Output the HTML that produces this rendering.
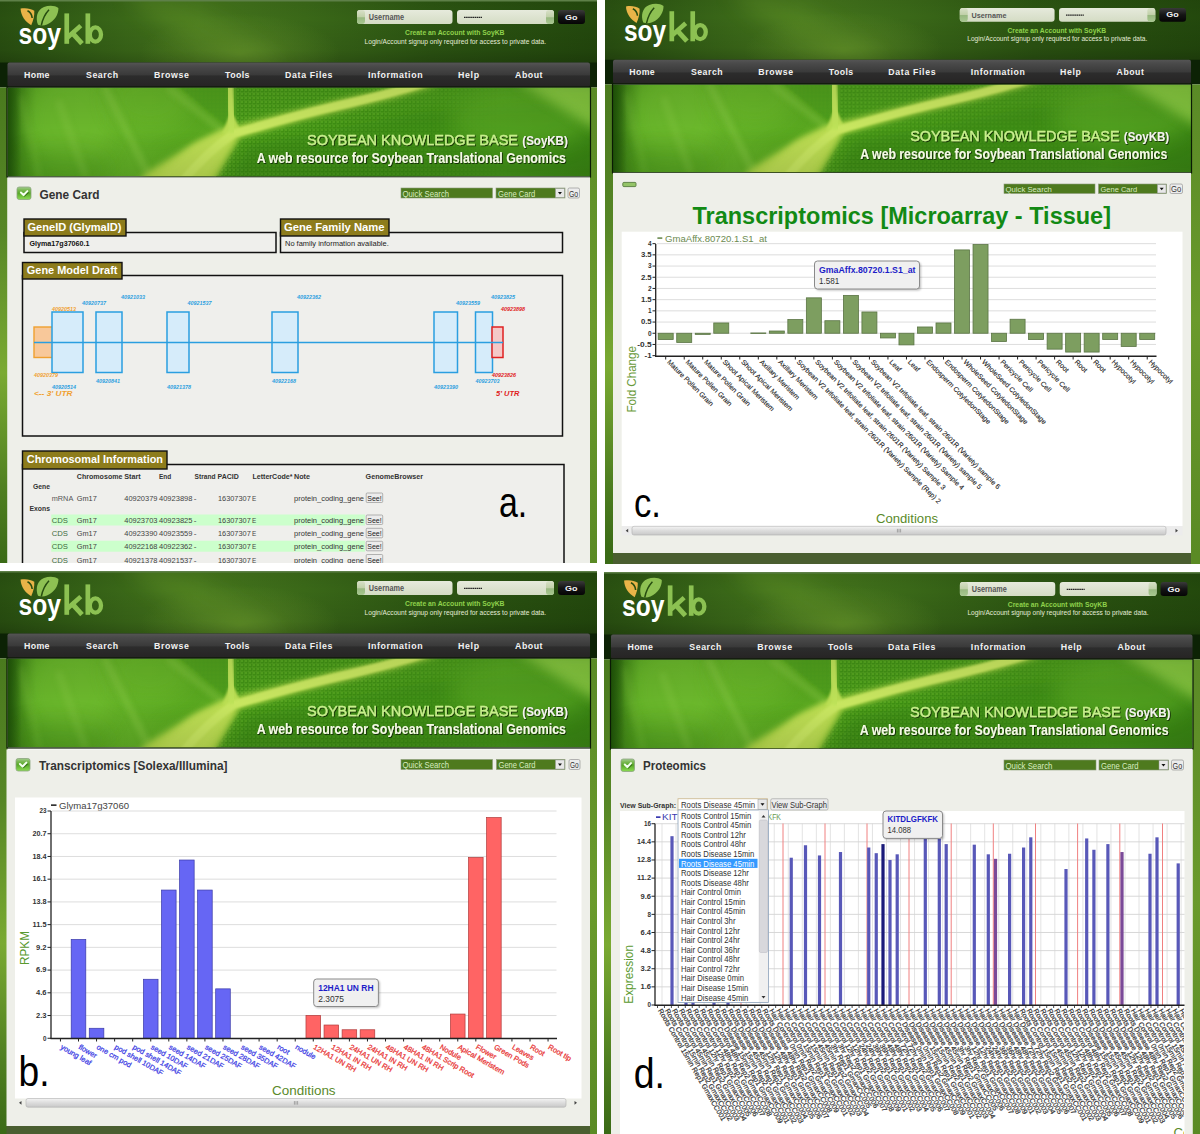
<!DOCTYPE html>
<html><head><meta charset="utf-8"><style>html,body{margin:0;padding:0;background:#fff;}body{width:1200px;height:1134px;overflow:hidden;}svg text{font-family:"Liberation Sans",sans-serif;}</style></head><body><svg width="1200" height="1134" viewBox="0 0 1200 1134" style="display:block"><defs>
<linearGradient id="hdrg" x1="0" y1="0" x2="1" y2="0">
 <stop offset="0" stop-color="#284e10"/><stop offset="0.15" stop-color="#346016"/><stop offset="0.33" stop-color="#44741c"/>
 <stop offset="0.5" stop-color="#3a6818"/><stop offset="0.7" stop-color="#2c5512"/><stop offset="1" stop-color="#22470c"/>
</linearGradient>
<radialGradient id="hdrglow" cx="240" cy="54" r="100" gradientUnits="userSpaceOnUse" gradientTransform="translate(240,54) scale(1,0.4) rotate(0) translate(-240,-54)">
 <stop offset="0" stop-color="#64962a" stop-opacity="0.95"/><stop offset="0.5" stop-color="#5a8a26" stop-opacity="0.45"/><stop offset="1" stop-color="#5a8a26" stop-opacity="0"/>
</radialGradient>
<linearGradient id="hdrv" x1="0" y1="0" x2="0" y2="1">
 <stop offset="0" stop-color="#000" stop-opacity="0.05"/><stop offset="0.3" stop-color="#000" stop-opacity="0.0"/><stop offset="0.8" stop-color="#000" stop-opacity="0.08"/><stop offset="1" stop-color="#000" stop-opacity="0.2"/>
</linearGradient>
<linearGradient id="navg" x1="0" y1="0" x2="0" y2="1">
 <stop offset="0" stop-color="#555555"/><stop offset="0.15" stop-color="#4a4a4a"/><stop offset="0.5" stop-color="#3a3a3a"/>
 <stop offset="0.55" stop-color="#2c2c2c"/><stop offset="1" stop-color="#262424"/>
</linearGradient>
<linearGradient id="fieldg" x1="0" y1="0" x2="0" y2="1">
 <stop offset="0" stop-color="#e6eadc"/><stop offset="1" stop-color="#d4dcc4"/>
</linearGradient>
<linearGradient id="gog" x1="0" y1="0" x2="0" y2="1">
 <stop offset="0" stop-color="#3a3a3a"/><stop offset="0.5" stop-color="#151515"/><stop offset="1" stop-color="#050505"/>
</linearGradient>
<linearGradient id="bang" x1="0" y1="0" x2="1" y2="0">
 <stop offset="0" stop-color="#2f6a10"/><stop offset="0.05" stop-color="#56a420"/><stop offset="0.2" stop-color="#62b026"/>
 <stop offset="0.38" stop-color="#56a41e"/><stop offset="0.6" stop-color="#469218"/><stop offset="0.85" stop-color="#4e9e1e"/><stop offset="1" stop-color="#408a16"/>
</linearGradient>
<linearGradient id="banv" x1="0" y1="0" x2="0" y2="1">
 <stop offset="0" stop-color="#000" stop-opacity="0.08"/><stop offset="0.5" stop-color="#000" stop-opacity="0"/><stop offset="1" stop-color="#000" stop-opacity="0.1"/>
</linearGradient>
<linearGradient id="banl" x1="0" y1="0" x2="1" y2="0"><stop offset="0" stop-color="#1a4a06" stop-opacity="0.8"/><stop offset="1" stop-color="#1a4a06" stop-opacity="0"/></linearGradient>
<pattern id="leaftex" width="4" height="4" patternUnits="userSpaceOnUse"><rect width="4" height="4" fill="#3f9014"/><circle cx="2" cy="2" r="1.1" fill="#5aac22"/><path d="M0,0 L4,0 M0,0 L0,4" stroke="#7cc03c" stroke-width="0.5" opacity="0.7"/></pattern>
<linearGradient id="texfade" x1="200" y1="0" x2="520" y2="0" gradientUnits="userSpaceOnUse"><stop offset="0" stop-color="#fff"/><stop offset="0.55" stop-color="#fff"/><stop offset="1" stop-color="#000"/></linearGradient>
<mask id="texmask" maskUnits="userSpaceOnUse" x="0" y="0" width="700" height="200"><rect x="0" y="0" width="700" height="200" fill="url(#texfade)"/></mask>
<linearGradient id="nubg" x1="0" y1="0" x2="0" y2="1"><stop offset="0" stop-color="#d8e0c8"/><stop offset="0.5" stop-color="#c0d0a8"/><stop offset="0.55" stop-color="#98b880"/><stop offset="1" stop-color="#a8c890"/></linearGradient>
<linearGradient id="lstrip" x1="0" y1="87" x2="0" y2="563" gradientUnits="userSpaceOnUse"><stop offset="0" stop-color="#4a7a1e"/><stop offset="0.3" stop-color="#568626"/><stop offset="0.6" stop-color="#7aaa32"/><stop offset="0.85" stop-color="#4e7e20"/><stop offset="1" stop-color="#3a6a16"/></linearGradient>
<linearGradient id="rstrip" x1="0" y1="87" x2="0" y2="563" gradientUnits="userSpaceOnUse"><stop offset="0" stop-color="#5a8a26"/><stop offset="0.5" stop-color="#6a9a2c"/><stop offset="1" stop-color="#5a8a24"/></linearGradient>
<filter id="b1" x="-20%" y="-20%" width="140%" height="140%"><feGaussianBlur stdDeviation="1.2"/></filter>
<filter id="b3" x="-20%" y="-50%" width="140%" height="200%"><feGaussianBlur stdDeviation="3"/></filter>
<filter id="b6" x="-30%" y="-80%" width="160%" height="260%"><feGaussianBlur stdDeviation="6"/></filter>
<filter id="b10" x="-50%" y="-100%" width="200%" height="300%"><feGaussianBlur stdDeviation="10"/></filter>
<filter id="tsh" x="-5%" y="-30%" width="110%" height="160%"><feDropShadow dx="0.8" dy="0.8" stdDeviation="0.6" flood-color="#000" flood-opacity="0.8"/></filter>
<linearGradient id="chk" x1="0" y1="0" x2="0" y2="1"><stop offset="0" stop-color="#a4cc90"/><stop offset="0.25" stop-color="#78b850"/><stop offset="0.5" stop-color="#58a828"/><stop offset="1" stop-color="#8cdc54"/></linearGradient>
<linearGradient id="scrl" x1="0" y1="0" x2="0" y2="1"><stop offset="0" stop-color="#f4f4f4"/><stop offset="0.5" stop-color="#dcdcdc"/><stop offset="1" stop-color="#c8c8c8"/></linearGradient>
</defs><rect width="1200" height="1134" fill="#ffffff"/><clipPath id="clipA"><rect x="0" y="0" width="597" height="563"/></clipPath><clipPath id="clipB"><rect x="0" y="571" width="597" height="563"/></clipPath><clipPath id="clipC"><rect x="605" y="0" width="595" height="564"/></clipPath><clipPath id="clipD"><rect x="604" y="572" width="596" height="562"/></clipPath><g clip-path="url(#clipA)"><rect x="-10.00" y="0.00" width="630.00" height="63.00" fill="url(#hdrg)" /><rect x="-10.00" y="0.00" width="630.00" height="63.00" fill="url(#hdrglow)" /><ellipse cx="205" cy="32" rx="85" ry="16" fill="#5e9028" opacity="0.45" transform="rotate(28 205 32)" filter="url(#b10)"/><rect x="-10.00" y="0.00" width="630.00" height="63.00" fill="url(#hdrv)" /><rect x="-10.00" y="0.00" width="630.00" height="1.50" fill="#5e8048" /><rect x="-10.00" y="62.50" width="630.00" height="25.00" fill="#0c2205" /><rect x="7.5" y="62.5" width="582.5" height="24.5" rx="2" fill="url(#navg)"/><text x="24" y="78.2" font-size="8.8" font-weight="bold" fill="#f2f2f2" textLength="25.5" lengthAdjust="spacing">Home</text><text x="86" y="78.2" font-size="8.8" font-weight="bold" fill="#f2f2f2" textLength="32" lengthAdjust="spacing">Search</text><text x="154" y="78.2" font-size="8.8" font-weight="bold" fill="#f2f2f2" textLength="35" lengthAdjust="spacing">Browse</text><text x="225" y="78.2" font-size="8.8" font-weight="bold" fill="#f2f2f2" textLength="24.5" lengthAdjust="spacing">Tools</text><text x="285" y="78.2" font-size="8.8" font-weight="bold" fill="#f2f2f2" textLength="47.5" lengthAdjust="spacing">Data Files</text><text x="368" y="78.2" font-size="8.8" font-weight="bold" fill="#f2f2f2" textLength="54.5" lengthAdjust="spacing">Information</text><text x="458" y="78.2" font-size="8.8" font-weight="bold" fill="#f2f2f2" textLength="21" lengthAdjust="spacing">Help</text><text x="515" y="78.2" font-size="8.8" font-weight="bold" fill="#f2f2f2" textLength="27.5" lengthAdjust="spacing">About</text><path d="M20.6,8.6 C25,7.6 31,8.3 34.3,10.8 C34.6,15.5 33.4,20.5 31.2,25.2 C25.5,22 20.8,16 20.6,8.6 Z" fill="#e9b448"/><path d="M27.5,10.8 C30,12 31.8,14.5 32.2,18" stroke="#274d10" stroke-width="1.6" fill="none"/><path d="M38,24.8 C35.3,18 37,9.5 44,7 C49,5.2 55,5.4 58.4,8 C58.6,14 55,21 47,24.6 C44,25.8 40.5,25.8 38,24.8 Z" fill="#8ec153"/><path d="M49,9.8 C45,14 42.5,19.5 41.3,25.5" stroke="#274d10" stroke-width="1.5" fill="none"/><text x="18.60" y="43.80" font-size="29.5" font-weight="bold" fill="#ffffff" textLength="42.40" lengthAdjust="spacingAndGlyphs" font-family="Liberation Sans" >soy</text><rect x="64.4" y="13.4" width="4.7" height="30.4" fill="#8cc152"/><path d="M67.5,37.5 L80.8,25.6" stroke="#8cc152" stroke-width="4.6" fill="none"/><path d="M71.2,31.8 L82,43.6" stroke="#8cc152" stroke-width="5" fill="none"/><rect x="85.5" y="13.4" width="4.7" height="30.4" fill="#8cc152"/><ellipse cx="95.4" cy="34.5" rx="5.6" ry="7.1" stroke="#8cc152" stroke-width="4.3" fill="none"/><rect x="357" y="10" width="95.5" height="14" rx="3" fill="url(#fieldg)"/><rect x="357" y="10" width="8" height="14" rx="3" fill="url(#nubg)"/><rect x="457" y="10" width="97" height="14" rx="3" fill="url(#fieldg)"/><rect x="546" y="10" width="8" height="14" rx="3" fill="url(#nubg)"/><text x="368.80" y="20.00" font-size="8.2" font-weight="bold" fill="#555" textLength="35.20" lengthAdjust="spacingAndGlyphs" >Username</text><line x1="464" y1="17.3" x2="482" y2="17.3" stroke="#222" stroke-width="1.3" stroke-dasharray="1.6,0.5"/><rect x="558" y="10" width="27" height="14" rx="3" fill="url(#gog)"/><text x="565.00" y="19.60" font-size="7" font-weight="bold" fill="#f4f4f4" textLength="12.50" lengthAdjust="spacingAndGlyphs" >Go</text><text x="405.00" y="35.00" font-size="7" font-weight="bold" fill="#8fd24c" textLength="99.50" lengthAdjust="spacingAndGlyphs" >Create an Account with SoyKB</text><text x="364.50" y="43.50" font-size="6.6" font-weight="normal" fill="#e4ecd8" textLength="181.50" lengthAdjust="spacingAndGlyphs" >Login/Account signup only required for access to private data.</text><rect x="-10.00" y="87.50" width="17.50" height="512.50" fill="url(#lstrip)" /><rect x="590.00" y="87.50" width="30.00" height="512.50" fill="url(#rstrip)" /><svg x="7.5" y="87.5" width="582.5" height="89.0" viewBox="7.5 87.5 582.5 89.0" overflow="hidden"><rect x="7.50" y="87.50" width="582.50" height="89.00" fill="url(#bang)" /><ellipse cx="70" cy="120" rx="45" ry="50" fill="#74c030" opacity="0.6" filter="url(#b10)"/><ellipse cx="150" cy="100" rx="40" ry="30" fill="#6cb82a" opacity="0.55" filter="url(#b10)"/><ellipse cx="60" cy="168" rx="50" ry="18" fill="#4e9c1a" opacity="0.45" filter="url(#b10)"/><ellipse cx="185" cy="165" rx="25" ry="15" fill="#4a9a18" opacity="0.3" filter="url(#b10)"/><line x1="104" y1="86" x2="148" y2="174" stroke="#8cca48" stroke-width="5" opacity="0.6" filter="url(#b3)"/><line x1="58" y1="100" x2="86" y2="178" stroke="#8cca48" stroke-width="6" opacity="0.35" filter="url(#b3)"/><line x1="168" y1="88" x2="224" y2="132" stroke="#8cca48" stroke-width="4" opacity="0.65" filter="url(#b3)"/><line x1="20" y1="96" x2="40" y2="178" stroke="#8cca48" stroke-width="6" opacity="0.2" filter="url(#b3)"/><g mask="url(#texmask)"><path d="M236,86 L236,128 L345,101 L420,84 Z" fill="url(#leaftex)" opacity="0.9"/><path d="M178,86 L227,86 L228,127 L205,108 Z" fill="url(#leaftex)" opacity="0.6" filter="url(#b1)"/><path d="M215,178 L240,140 L350,110 L420,88 L430,84 L520,84 L520,178 Z" fill="url(#leaftex)" opacity="0.9"/></g><path d="M230,178 L250,145 L420,112 L600,100 L600,178 Z" fill="#2c760c" opacity="0.35" filter="url(#b6)"/><ellipse cx="520" cy="120" rx="70" ry="30" fill="#62ae28" opacity="0.5" filter="url(#b10)"/><path d="M515,80 L600,80 L600,132 Z" fill="#94d04a" opacity="0.75" filter="url(#b6)"/><path d="M137,182 L214,182 L239,137 L300,120 L350,108 L395,97 L440,84 L412,84 L385,91 L345,99 L296,111 L224,129 L198,141 L172,157 L148,172 Z" fill="#b2d84a" opacity="1" filter="url(#b3)"/><path d="M152,182 L204,182 L236,136 L224,131 L192,147 Z" fill="#bede54" opacity="0.9" filter="url(#b3)"/><path d="M222,134 L242,134 L234,116 L229,116 Z" fill="#bade52" filter="url(#b1)"/><path d="M182,182 Q206,153 233,134 Q300,114 350,103 Q385,95 428,82" stroke="#c8e660" stroke-width="8.5" fill="none" opacity="1" filter="url(#b1)"/><path d="M229.5,84 Q230.5,112 233,133" stroke="#bee258" stroke-width="7.5" fill="none" filter="url(#b1)"/><rect x="7.50" y="87.50" width="582.50" height="89.00" fill="url(#banv)" /><rect x="7.50" y="87.50" width="14.00" height="89.00" fill="url(#banl)" /></svg><rect x="7.0" y="87.0" width="583.5" height="90.0" fill="none" stroke="#0a1a04" stroke-width="1.2"/><g filter="url(#tsh)"><text x="307.00" y="144.80" font-size="15.4" font-weight="normal" fill="#c8f08c" textLength="211.00" lengthAdjust="spacingAndGlyphs" stroke="#c8f08c" stroke-width="0.35">SOYBEAN KNOWLEDGE BASE</text><text x="522.30" y="144.80" font-size="12.2" font-weight="bold" fill="#f4f4ee" textLength="45.50" lengthAdjust="spacingAndGlyphs" >(SoyKB)</text><text x="256.70" y="163.40" font-size="14.6" font-weight="bold" fill="#f4fae4" textLength="309.30" lengthAdjust="spacingAndGlyphs" >A web resource for Soybean Translational Genomics</text></g><rect x="7.50" y="177.50" width="582.50" height="392.50" fill="#eeefe9" /><rect x="17" y="187" width="14" height="12.5" rx="2.2" fill="url(#chk)" stroke="#8aa47e" stroke-width="0.8"/><path d="M24.18,196.40 L28.56,192.32" stroke="#2a5a10" stroke-width="1.2" fill="none" opacity="0.8"/><path d="M20.92,192.50 L23.58,195.00 L27.36,191.12" stroke="#f4fff0" stroke-width="2" fill="none" stroke-linecap="round" stroke-linejoin="round"/><text x="39.50" y="199.00" font-size="13.3" font-weight="bold" fill="#333" textLength="60.00" lengthAdjust="spacingAndGlyphs" >Gene Card</text><rect x="401.00" y="188.00" width="91.50" height="10.00" fill="#4e7a1e" stroke="#8a9a7a" stroke-width="0.6"/><text x="402.50" y="196.70" font-size="8.5" font-weight="normal" fill="#d8ecc0" textLength="46.67" lengthAdjust="spacingAndGlyphs" >Quick Search</text><rect x="496.00" y="188.00" width="69.00" height="10.00" fill="#4e7a1e" stroke="#8a9a7a" stroke-width="0.6"/><text x="498.00" y="196.70" font-size="8.5" font-weight="normal" fill="#d8ecc0" textLength="37.26" lengthAdjust="spacingAndGlyphs" >Gene Card</text><rect x="555.50" y="188.50" width="9.00" height="9.00" fill="#e8e8e8" stroke="#999" stroke-width="0.5"/><path d="M557.95,192.0 L561.95,192.0 L559.95,194.5 Z" fill="#111"/><rect x="568" y="188" width="11.5" height="10" rx="1.5" fill="#ececec" stroke="#888" stroke-width="0.6"/><text x="569.00" y="196.70" font-size="9.350000000000001" font-weight="normal" fill="#333" textLength="9.20" lengthAdjust="spacingAndGlyphs" >Go</text><rect x="24.00" y="232.50" width="252.00" height="20.00" fill="#efefec" stroke="#111" stroke-width="1.5"/><rect x="24.00" y="219.00" width="102.00" height="17.00" fill="#8d7c1c" stroke="#111" stroke-width="1.4"/><text x="27.50" y="231.30" font-size="11.5" font-weight="bold" fill="#ffffff" textLength="94.00" lengthAdjust="spacingAndGlyphs" >GeneID (GlymaID)</text><text x="29.50" y="245.60" font-size="7.2" font-weight="bold" fill="#111" textLength="60.00" lengthAdjust="spacingAndGlyphs" >Glyma17g37060.1</text><rect x="280.50" y="232.50" width="282.00" height="20.00" fill="#efefec" stroke="#111" stroke-width="1.5"/><rect x="280.50" y="219.00" width="108.50" height="17.00" fill="#8d7c1c" stroke="#111" stroke-width="1.4"/><text x="284.00" y="231.30" font-size="11.5" font-weight="bold" fill="#ffffff" textLength="100.50" lengthAdjust="spacingAndGlyphs" >Gene Family Name</text><text x="285.00" y="245.60" font-size="7" font-weight="normal" fill="#222" textLength="103.70" lengthAdjust="spacingAndGlyphs" >No family information available.</text><rect x="22.50" y="275.50" width="540.00" height="160.50" fill="#efefec" stroke="#111" stroke-width="1.5"/><rect x="22.50" y="262.50" width="99.50" height="16.50" fill="#8d7c1c" stroke="#111" stroke-width="1.4"/><text x="26.80" y="274.00" font-size="11.5" font-weight="bold" fill="#ffffff" textLength="90.70" lengthAdjust="spacingAndGlyphs" >Gene Model Draft</text><rect x="34.00" y="327.00" width="19.00" height="30.50" fill="#f8c89a" stroke="#f0a030" stroke-width="1.4"/><rect x="52.00" y="312.00" width="31.00" height="60.50" fill="#d6ecfa" stroke="#2a9ee0" stroke-width="1.5"/><rect x="96.00" y="312.00" width="26.00" height="60.50" fill="#d6ecfa" stroke="#2a9ee0" stroke-width="1.5"/><rect x="167.00" y="312.00" width="22.00" height="60.50" fill="#d6ecfa" stroke="#2a9ee0" stroke-width="1.5"/><rect x="272.00" y="312.00" width="26.00" height="60.50" fill="#d6ecfa" stroke="#2a9ee0" stroke-width="1.5"/><rect x="434.00" y="312.00" width="23.50" height="60.50" fill="#d6ecfa" stroke="#2a9ee0" stroke-width="1.5"/><rect x="475.50" y="312.00" width="17.00" height="60.50" fill="#d6ecfa" stroke="#2a9ee0" stroke-width="1.5"/><rect x="492.00" y="327.00" width="11.00" height="30.50" fill="#f4c8c8" stroke="#e02020" stroke-width="1.5"/><line x1="34" y1="342.5" x2="503" y2="342.5" stroke="#2a9ee0" stroke-width="1.6"/><text x="52.00" y="311.00" font-size="5.6" font-weight="bold" fill="#f0a030" textLength="24.00" lengthAdjust="spacingAndGlyphs" font-style="italic" >40920513</text><text x="82.00" y="305.00" font-size="5.6" font-weight="bold" fill="#2a9ee0" textLength="24.00" lengthAdjust="spacingAndGlyphs" font-style="italic" >40920737</text><text x="121.00" y="299.00" font-size="5.6" font-weight="bold" fill="#2a9ee0" textLength="24.00" lengthAdjust="spacingAndGlyphs" font-style="italic" >40921033</text><text x="187.50" y="305.00" font-size="5.6" font-weight="bold" fill="#2a9ee0" textLength="24.00" lengthAdjust="spacingAndGlyphs" font-style="italic" >40921537</text><text x="297.00" y="299.00" font-size="5.6" font-weight="bold" fill="#2a9ee0" textLength="24.00" lengthAdjust="spacingAndGlyphs" font-style="italic" >40922362</text><text x="456.00" y="305.00" font-size="5.6" font-weight="bold" fill="#2a9ee0" textLength="24.00" lengthAdjust="spacingAndGlyphs" font-style="italic" >40923559</text><text x="491.00" y="299.00" font-size="5.6" font-weight="bold" fill="#2a9ee0" textLength="24.00" lengthAdjust="spacingAndGlyphs" font-style="italic" >40923825</text><text x="501.00" y="311.00" font-size="5.6" font-weight="bold" fill="#e02020" textLength="24.00" lengthAdjust="spacingAndGlyphs" font-style="italic" >40923898</text><text x="34.00" y="377.00" font-size="5.6" font-weight="bold" fill="#f0a030" textLength="24.00" lengthAdjust="spacingAndGlyphs" font-style="italic" >40920379</text><text x="52.00" y="389.00" font-size="5.6" font-weight="bold" fill="#2a9ee0" textLength="24.00" lengthAdjust="spacingAndGlyphs" font-style="italic" >40920514</text><text x="96.00" y="383.00" font-size="5.6" font-weight="bold" fill="#2a9ee0" textLength="24.00" lengthAdjust="spacingAndGlyphs" font-style="italic" >40920841</text><text x="167.00" y="389.00" font-size="5.6" font-weight="bold" fill="#2a9ee0" textLength="24.00" lengthAdjust="spacingAndGlyphs" font-style="italic" >40921378</text><text x="272.00" y="383.00" font-size="5.6" font-weight="bold" fill="#2a9ee0" textLength="24.00" lengthAdjust="spacingAndGlyphs" font-style="italic" >40922168</text><text x="434.00" y="389.00" font-size="5.6" font-weight="bold" fill="#2a9ee0" textLength="24.00" lengthAdjust="spacingAndGlyphs" font-style="italic" >40923390</text><text x="475.50" y="383.00" font-size="5.6" font-weight="bold" fill="#2a9ee0" textLength="24.00" lengthAdjust="spacingAndGlyphs" font-style="italic" >40923703</text><text x="492.00" y="377.00" font-size="5.6" font-weight="bold" fill="#e02020" textLength="24.00" lengthAdjust="spacingAndGlyphs" font-style="italic" >40923826</text><text x="34.00" y="396.00" font-size="7.5" font-weight="bold" fill="#f0a030" textLength="38.50" lengthAdjust="spacingAndGlyphs" font-style="italic" >&lt;-- 3' UTR</text><text x="496.00" y="396.00" font-size="7.5" font-weight="bold" fill="#e02020" textLength="23.50" lengthAdjust="spacingAndGlyphs" font-style="italic" >5' UTR</text><rect x="22.50" y="464.50" width="541.50" height="135.50" fill="#efefec" stroke="#111" stroke-width="1.5"/><rect x="22.50" y="451.00" width="144.50" height="18.00" fill="#8d7c1c" stroke="#111" stroke-width="1.4"/><text x="26.80" y="463.20" font-size="11" font-weight="bold" fill="#ffffff" textLength="136.20" lengthAdjust="spacingAndGlyphs" >Chromosomal Information</text><rect x="51.20" y="514.50" width="313.80" height="11.00" fill="#ccffcc" /><rect x="51.20" y="540.70" width="313.80" height="11.00" fill="#ccffcc" /><text x="76.75" y="479.30" font-size="7.6" font-weight="bold" fill="#333" textLength="45.75" lengthAdjust="spacingAndGlyphs" >Chromosome</text><text x="124.25" y="479.30" font-size="7.6" font-weight="bold" fill="#333" textLength="16.50" lengthAdjust="spacingAndGlyphs" >Start</text><text x="159.00" y="479.30" font-size="7.6" font-weight="bold" fill="#333" textLength="12.25" lengthAdjust="spacingAndGlyphs" >End</text><text x="194.50" y="479.30" font-size="7.6" font-weight="bold" fill="#333" textLength="21.00" lengthAdjust="spacingAndGlyphs" >Strand</text><text x="217.50" y="479.30" font-size="7.6" font-weight="bold" fill="#333" textLength="21.25" lengthAdjust="spacingAndGlyphs" >PACID</text><text x="252.50" y="479.30" font-size="7.6" font-weight="bold" fill="#333" textLength="40.00" lengthAdjust="spacingAndGlyphs" >LetterCode*</text><text x="294.00" y="479.30" font-size="7.6" font-weight="bold" fill="#333" textLength="16.00" lengthAdjust="spacingAndGlyphs" >Note</text><text x="365.60" y="479.30" font-size="7.6" font-weight="bold" fill="#333" textLength="57.40" lengthAdjust="spacingAndGlyphs" >GenomeBrowser</text><text x="33.00" y="488.80" font-size="7.6" font-weight="bold" fill="#333" textLength="17.00" lengthAdjust="spacingAndGlyphs" >Gene</text><text x="29.50" y="511.30" font-size="7.6" font-weight="bold" fill="#333" textLength="20.50" lengthAdjust="spacingAndGlyphs" >Exons</text><text x="51.75" y="500.50" font-size="7.6" font-weight="normal" fill="#555" textLength="21.50" lengthAdjust="spacingAndGlyphs" >mRNA</text><text x="76.75" y="500.50" font-size="7.6" font-weight="normal" fill="#444" textLength="20.00" lengthAdjust="spacingAndGlyphs" >Gm17</text><text x="124.25" y="500.50" font-size="7.6" font-weight="normal" fill="#444" textLength="33.25" lengthAdjust="spacingAndGlyphs" >40920379</text><text x="159.00" y="500.50" font-size="7.6" font-weight="normal" fill="#444" textLength="33.50" lengthAdjust="spacingAndGlyphs" >40923898</text><text x="193.75" y="500.50" font-size="7.6" font-weight="normal" fill="#444" textLength="2.75" lengthAdjust="spacingAndGlyphs" >-</text><text x="218.00" y="500.50" font-size="7.6" font-weight="normal" fill="#444" textLength="32.75" lengthAdjust="spacingAndGlyphs" >16307307</text><text x="252.00" y="500.50" font-size="7.6" font-weight="normal" fill="#444" textLength="4.25" lengthAdjust="spacingAndGlyphs" >E</text><text x="294.10" y="500.50" font-size="7.6" font-weight="normal" fill="#333" textLength="69.90" lengthAdjust="spacingAndGlyphs" >protein_coding_gene</text><rect x="366.2" y="493.0" width="16.5" height="9.5" rx="1" fill="#ececec" stroke="#888" stroke-width="0.6"/><text x="367.20" y="500.50" font-size="8" font-weight="normal" fill="#222" textLength="14.50" lengthAdjust="spacingAndGlyphs" >See!</text><text x="51.75" y="523.00" font-size="7.6" font-weight="normal" fill="#3d6b3d" textLength="16.25" lengthAdjust="spacingAndGlyphs" >CDS</text><text x="76.75" y="523.00" font-size="7.6" font-weight="normal" fill="#444" textLength="20.00" lengthAdjust="spacingAndGlyphs" >Gm17</text><text x="124.25" y="523.00" font-size="7.6" font-weight="normal" fill="#444" textLength="33.25" lengthAdjust="spacingAndGlyphs" >40923703</text><text x="159.00" y="523.00" font-size="7.6" font-weight="normal" fill="#444" textLength="33.50" lengthAdjust="spacingAndGlyphs" >40923825</text><text x="193.75" y="523.00" font-size="7.6" font-weight="normal" fill="#444" textLength="2.75" lengthAdjust="spacingAndGlyphs" >-</text><text x="218.00" y="523.00" font-size="7.6" font-weight="normal" fill="#444" textLength="32.75" lengthAdjust="spacingAndGlyphs" >16307307</text><text x="252.00" y="523.00" font-size="7.6" font-weight="normal" fill="#444" textLength="4.25" lengthAdjust="spacingAndGlyphs" >E</text><text x="294.10" y="523.00" font-size="7.6" font-weight="normal" fill="#333" textLength="69.90" lengthAdjust="spacingAndGlyphs" >protein_coding_gene</text><rect x="366.2" y="515" width="16.5" height="9.5" rx="1" fill="#ececec" stroke="#888" stroke-width="0.6"/><text x="367.20" y="523.00" font-size="8" font-weight="normal" fill="#222" textLength="14.50" lengthAdjust="spacingAndGlyphs" >See!</text><text x="51.75" y="536.30" font-size="7.6" font-weight="normal" fill="#3d6b3d" textLength="16.25" lengthAdjust="spacingAndGlyphs" >CDS</text><text x="76.75" y="536.30" font-size="7.6" font-weight="normal" fill="#444" textLength="20.00" lengthAdjust="spacingAndGlyphs" >Gm17</text><text x="124.25" y="536.30" font-size="7.6" font-weight="normal" fill="#444" textLength="33.25" lengthAdjust="spacingAndGlyphs" >40923390</text><text x="159.00" y="536.30" font-size="7.6" font-weight="normal" fill="#444" textLength="33.50" lengthAdjust="spacingAndGlyphs" >40923559</text><text x="193.75" y="536.30" font-size="7.6" font-weight="normal" fill="#444" textLength="2.75" lengthAdjust="spacingAndGlyphs" >-</text><text x="218.00" y="536.30" font-size="7.6" font-weight="normal" fill="#444" textLength="32.75" lengthAdjust="spacingAndGlyphs" >16307307</text><text x="252.00" y="536.30" font-size="7.6" font-weight="normal" fill="#444" textLength="4.25" lengthAdjust="spacingAndGlyphs" >E</text><text x="294.10" y="536.30" font-size="7.6" font-weight="normal" fill="#333" textLength="69.90" lengthAdjust="spacingAndGlyphs" >protein_coding_gene</text><rect x="366.2" y="528.3" width="16.5" height="9.5" rx="1" fill="#ececec" stroke="#888" stroke-width="0.6"/><text x="367.20" y="536.30" font-size="8" font-weight="normal" fill="#222" textLength="14.50" lengthAdjust="spacingAndGlyphs" >See!</text><text x="51.75" y="549.30" font-size="7.6" font-weight="normal" fill="#3d6b3d" textLength="16.25" lengthAdjust="spacingAndGlyphs" >CDS</text><text x="76.75" y="549.30" font-size="7.6" font-weight="normal" fill="#444" textLength="20.00" lengthAdjust="spacingAndGlyphs" >Gm17</text><text x="124.25" y="549.30" font-size="7.6" font-weight="normal" fill="#444" textLength="33.25" lengthAdjust="spacingAndGlyphs" >40922168</text><text x="159.00" y="549.30" font-size="7.6" font-weight="normal" fill="#444" textLength="33.50" lengthAdjust="spacingAndGlyphs" >40922362</text><text x="193.75" y="549.30" font-size="7.6" font-weight="normal" fill="#444" textLength="2.75" lengthAdjust="spacingAndGlyphs" >-</text><text x="218.00" y="549.30" font-size="7.6" font-weight="normal" fill="#444" textLength="32.75" lengthAdjust="spacingAndGlyphs" >16307307</text><text x="252.00" y="549.30" font-size="7.6" font-weight="normal" fill="#444" textLength="4.25" lengthAdjust="spacingAndGlyphs" >E</text><text x="294.10" y="549.30" font-size="7.6" font-weight="normal" fill="#333" textLength="69.90" lengthAdjust="spacingAndGlyphs" >protein_coding_gene</text><rect x="366.2" y="541.3" width="16.5" height="9.5" rx="1" fill="#ececec" stroke="#888" stroke-width="0.6"/><text x="367.20" y="549.30" font-size="8" font-weight="normal" fill="#222" textLength="14.50" lengthAdjust="spacingAndGlyphs" >See!</text><text x="51.75" y="562.50" font-size="7.6" font-weight="normal" fill="#3d6b3d" textLength="16.25" lengthAdjust="spacingAndGlyphs" >CDS</text><text x="76.75" y="562.50" font-size="7.6" font-weight="normal" fill="#444" textLength="20.00" lengthAdjust="spacingAndGlyphs" >Gm17</text><text x="124.25" y="562.50" font-size="7.6" font-weight="normal" fill="#444" textLength="33.25" lengthAdjust="spacingAndGlyphs" >40921378</text><text x="159.00" y="562.50" font-size="7.6" font-weight="normal" fill="#444" textLength="33.50" lengthAdjust="spacingAndGlyphs" >40921537</text><text x="193.75" y="562.50" font-size="7.6" font-weight="normal" fill="#444" textLength="2.75" lengthAdjust="spacingAndGlyphs" >-</text><text x="218.00" y="562.50" font-size="7.6" font-weight="normal" fill="#444" textLength="32.75" lengthAdjust="spacingAndGlyphs" >16307307</text><text x="252.00" y="562.50" font-size="7.6" font-weight="normal" fill="#444" textLength="4.25" lengthAdjust="spacingAndGlyphs" >E</text><text x="294.10" y="562.50" font-size="7.6" font-weight="normal" fill="#333" textLength="69.90" lengthAdjust="spacingAndGlyphs" >protein_coding_gene</text><rect x="366.2" y="554.5" width="16.5" height="9.5" rx="1" fill="#ececec" stroke="#888" stroke-width="0.6"/><text x="367.20" y="562.50" font-size="8" font-weight="normal" fill="#222" textLength="14.50" lengthAdjust="spacingAndGlyphs" >See!</text><text x="499.00" y="516.70" font-size="42" font-weight="normal" fill="#000" textLength="28.30" lengthAdjust="spacingAndGlyphs" >a.</text></g><g clip-path="url(#clipB)"><g transform="translate(0,571)"><rect x="-10.00" y="0.00" width="630.00" height="63.00" fill="url(#hdrg)" /><rect x="-10.00" y="0.00" width="630.00" height="63.00" fill="url(#hdrglow)" /><ellipse cx="205" cy="32" rx="85" ry="16" fill="#5e9028" opacity="0.45" transform="rotate(28 205 32)" filter="url(#b10)"/><rect x="-10.00" y="0.00" width="630.00" height="63.00" fill="url(#hdrv)" /><rect x="-10.00" y="0.00" width="630.00" height="1.50" fill="#5e8048" /><rect x="-10.00" y="62.50" width="630.00" height="25.00" fill="#0c2205" /><rect x="7.5" y="62.5" width="582.5" height="24.5" rx="2" fill="url(#navg)"/><text x="24" y="78.2" font-size="8.8" font-weight="bold" fill="#f2f2f2" textLength="25.5" lengthAdjust="spacing">Home</text><text x="86" y="78.2" font-size="8.8" font-weight="bold" fill="#f2f2f2" textLength="32" lengthAdjust="spacing">Search</text><text x="154" y="78.2" font-size="8.8" font-weight="bold" fill="#f2f2f2" textLength="35" lengthAdjust="spacing">Browse</text><text x="225" y="78.2" font-size="8.8" font-weight="bold" fill="#f2f2f2" textLength="24.5" lengthAdjust="spacing">Tools</text><text x="285" y="78.2" font-size="8.8" font-weight="bold" fill="#f2f2f2" textLength="47.5" lengthAdjust="spacing">Data Files</text><text x="368" y="78.2" font-size="8.8" font-weight="bold" fill="#f2f2f2" textLength="54.5" lengthAdjust="spacing">Information</text><text x="458" y="78.2" font-size="8.8" font-weight="bold" fill="#f2f2f2" textLength="21" lengthAdjust="spacing">Help</text><text x="515" y="78.2" font-size="8.8" font-weight="bold" fill="#f2f2f2" textLength="27.5" lengthAdjust="spacing">About</text><path d="M20.6,8.6 C25,7.6 31,8.3 34.3,10.8 C34.6,15.5 33.4,20.5 31.2,25.2 C25.5,22 20.8,16 20.6,8.6 Z" fill="#e9b448"/><path d="M27.5,10.8 C30,12 31.8,14.5 32.2,18" stroke="#274d10" stroke-width="1.6" fill="none"/><path d="M38,24.8 C35.3,18 37,9.5 44,7 C49,5.2 55,5.4 58.4,8 C58.6,14 55,21 47,24.6 C44,25.8 40.5,25.8 38,24.8 Z" fill="#8ec153"/><path d="M49,9.8 C45,14 42.5,19.5 41.3,25.5" stroke="#274d10" stroke-width="1.5" fill="none"/><text x="18.60" y="43.80" font-size="29.5" font-weight="bold" fill="#ffffff" textLength="42.40" lengthAdjust="spacingAndGlyphs" font-family="Liberation Sans" >soy</text><rect x="64.4" y="13.4" width="4.7" height="30.4" fill="#8cc152"/><path d="M67.5,37.5 L80.8,25.6" stroke="#8cc152" stroke-width="4.6" fill="none"/><path d="M71.2,31.8 L82,43.6" stroke="#8cc152" stroke-width="5" fill="none"/><rect x="85.5" y="13.4" width="4.7" height="30.4" fill="#8cc152"/><ellipse cx="95.4" cy="34.5" rx="5.6" ry="7.1" stroke="#8cc152" stroke-width="4.3" fill="none"/><rect x="357" y="10" width="95.5" height="14" rx="3" fill="url(#fieldg)"/><rect x="357" y="10" width="8" height="14" rx="3" fill="url(#nubg)"/><rect x="457" y="10" width="97" height="14" rx="3" fill="url(#fieldg)"/><rect x="546" y="10" width="8" height="14" rx="3" fill="url(#nubg)"/><text x="368.80" y="20.00" font-size="8.2" font-weight="bold" fill="#555" textLength="35.20" lengthAdjust="spacingAndGlyphs" >Username</text><line x1="464" y1="17.3" x2="482" y2="17.3" stroke="#222" stroke-width="1.3" stroke-dasharray="1.6,0.5"/><rect x="558" y="10" width="27" height="14" rx="3" fill="url(#gog)"/><text x="565.00" y="19.60" font-size="7" font-weight="bold" fill="#f4f4f4" textLength="12.50" lengthAdjust="spacingAndGlyphs" >Go</text><text x="405.00" y="35.00" font-size="7" font-weight="bold" fill="#8fd24c" textLength="99.50" lengthAdjust="spacingAndGlyphs" >Create an Account with SoyKB</text><text x="364.50" y="43.50" font-size="6.6" font-weight="normal" fill="#e4ecd8" textLength="181.50" lengthAdjust="spacingAndGlyphs" >Login/Account signup only required for access to private data.</text><rect x="-10.00" y="87.50" width="17.50" height="512.50" fill="url(#lstrip)" /><rect x="590.00" y="87.50" width="30.00" height="512.50" fill="url(#rstrip)" /><svg x="7.5" y="87.5" width="582.5" height="89.0" viewBox="7.5 87.5 582.5 89.0" overflow="hidden"><rect x="7.50" y="87.50" width="582.50" height="89.00" fill="url(#bang)" /><ellipse cx="70" cy="120" rx="45" ry="50" fill="#74c030" opacity="0.6" filter="url(#b10)"/><ellipse cx="150" cy="100" rx="40" ry="30" fill="#6cb82a" opacity="0.55" filter="url(#b10)"/><ellipse cx="60" cy="168" rx="50" ry="18" fill="#4e9c1a" opacity="0.45" filter="url(#b10)"/><ellipse cx="185" cy="165" rx="25" ry="15" fill="#4a9a18" opacity="0.3" filter="url(#b10)"/><line x1="104" y1="86" x2="148" y2="174" stroke="#8cca48" stroke-width="5" opacity="0.6" filter="url(#b3)"/><line x1="58" y1="100" x2="86" y2="178" stroke="#8cca48" stroke-width="6" opacity="0.35" filter="url(#b3)"/><line x1="168" y1="88" x2="224" y2="132" stroke="#8cca48" stroke-width="4" opacity="0.65" filter="url(#b3)"/><line x1="20" y1="96" x2="40" y2="178" stroke="#8cca48" stroke-width="6" opacity="0.2" filter="url(#b3)"/><g mask="url(#texmask)"><path d="M236,86 L236,128 L345,101 L420,84 Z" fill="url(#leaftex)" opacity="0.9"/><path d="M178,86 L227,86 L228,127 L205,108 Z" fill="url(#leaftex)" opacity="0.6" filter="url(#b1)"/><path d="M215,178 L240,140 L350,110 L420,88 L430,84 L520,84 L520,178 Z" fill="url(#leaftex)" opacity="0.9"/></g><path d="M230,178 L250,145 L420,112 L600,100 L600,178 Z" fill="#2c760c" opacity="0.35" filter="url(#b6)"/><ellipse cx="520" cy="120" rx="70" ry="30" fill="#62ae28" opacity="0.5" filter="url(#b10)"/><path d="M515,80 L600,80 L600,132 Z" fill="#94d04a" opacity="0.75" filter="url(#b6)"/><path d="M137,182 L214,182 L239,137 L300,120 L350,108 L395,97 L440,84 L412,84 L385,91 L345,99 L296,111 L224,129 L198,141 L172,157 L148,172 Z" fill="#b2d84a" opacity="1" filter="url(#b3)"/><path d="M152,182 L204,182 L236,136 L224,131 L192,147 Z" fill="#bede54" opacity="0.9" filter="url(#b3)"/><path d="M222,134 L242,134 L234,116 L229,116 Z" fill="#bade52" filter="url(#b1)"/><path d="M182,182 Q206,153 233,134 Q300,114 350,103 Q385,95 428,82" stroke="#c8e660" stroke-width="8.5" fill="none" opacity="1" filter="url(#b1)"/><path d="M229.5,84 Q230.5,112 233,133" stroke="#bee258" stroke-width="7.5" fill="none" filter="url(#b1)"/><rect x="7.50" y="87.50" width="582.50" height="89.00" fill="url(#banv)" /><rect x="7.50" y="87.50" width="14.00" height="89.00" fill="url(#banl)" /></svg><rect x="7.0" y="87.0" width="583.5" height="90.0" fill="none" stroke="#0a1a04" stroke-width="1.2"/><g filter="url(#tsh)"><text x="307.00" y="144.80" font-size="15.4" font-weight="normal" fill="#c8f08c" textLength="211.00" lengthAdjust="spacingAndGlyphs" stroke="#c8f08c" stroke-width="0.35">SOYBEAN KNOWLEDGE BASE</text><text x="522.30" y="144.80" font-size="12.2" font-weight="bold" fill="#f4f4ee" textLength="45.50" lengthAdjust="spacingAndGlyphs" >(SoyKB)</text><text x="256.70" y="163.40" font-size="14.6" font-weight="bold" fill="#f4fae4" textLength="309.30" lengthAdjust="spacingAndGlyphs" >A web resource for Soybean Translational Genomics</text></g></g><rect x="6.50" y="749.50" width="583.50" height="376.50" fill="#eeefe9" /><rect x="6.50" y="1126.00" width="583.50" height="8.00" fill="#4a5e30" /><rect x="16" y="758.5" width="14" height="12.5" rx="2.2" fill="url(#chk)" stroke="#8aa47e" stroke-width="0.8"/><path d="M23.18,767.90 L27.56,763.83" stroke="#2a5a10" stroke-width="1.2" fill="none" opacity="0.8"/><path d="M19.92,764.00 L22.58,766.50 L26.36,762.62" stroke="#f4fff0" stroke-width="2" fill="none" stroke-linecap="round" stroke-linejoin="round"/><text x="39.00" y="769.60" font-size="13.3" font-weight="bold" fill="#333" textLength="188.50" lengthAdjust="spacingAndGlyphs" >Transcriptomics [Solexa/Illumina]</text><rect x="401.00" y="759.50" width="91.50" height="10.00" fill="#4e7a1e" stroke="#8a9a7a" stroke-width="0.6"/><text x="402.50" y="768.20" font-size="8.5" font-weight="normal" fill="#d8ecc0" textLength="46.67" lengthAdjust="spacingAndGlyphs" >Quick Search</text><rect x="496.50" y="759.50" width="68.50" height="10.00" fill="#4e7a1e" stroke="#8a9a7a" stroke-width="0.6"/><text x="498.50" y="768.20" font-size="8.5" font-weight="normal" fill="#d8ecc0" textLength="36.99" lengthAdjust="spacingAndGlyphs" >Gene Card</text><rect x="555.50" y="760.00" width="9.00" height="9.00" fill="#e8e8e8" stroke="#999" stroke-width="0.5"/><path d="M557.95,763.5 L561.95,763.5 L559.95,766.0 Z" fill="#111"/><rect x="569" y="759.5" width="11" height="10.0" rx="1.5" fill="#ececec" stroke="#888" stroke-width="0.6"/><text x="570.00" y="768.20" font-size="9.350000000000001" font-weight="normal" fill="#333" textLength="8.70" lengthAdjust="spacingAndGlyphs" >Go</text><rect x="15.00" y="797.50" width="566.50" height="301.00" fill="#ffffff" /><rect x="51.00" y="804.30" width="5.50" height="1.70" fill="#333" /><text x="59.00" y="808.60" font-size="8.8" font-weight="normal" fill="#444" textLength="70.00" lengthAdjust="spacingAndGlyphs" >Glyma17g37060</text><line x1="47.5" y1="1038.25" x2="51" y2="1038.25" stroke="#222" stroke-width="1"/><text x="43.00" y="1040.55" font-size="6.8" font-weight="bold" fill="#333" textLength="3.50" lengthAdjust="spacingAndGlyphs" >0</text><line x1="52" y1="1015.53" x2="556.5" y2="1015.53" stroke="#d9d9d9" stroke-width="0.9"/><line x1="47.5" y1="1015.53" x2="51" y2="1015.53" stroke="#222" stroke-width="1"/><text x="36.00" y="1017.83" font-size="6.8" font-weight="bold" fill="#333" textLength="10.50" lengthAdjust="spacingAndGlyphs" >2.3</text><line x1="52" y1="992.80" x2="556.5" y2="992.80" stroke="#d9d9d9" stroke-width="0.9"/><line x1="47.5" y1="992.80" x2="51" y2="992.80" stroke="#222" stroke-width="1"/><text x="36.00" y="995.10" font-size="6.8" font-weight="bold" fill="#333" textLength="10.50" lengthAdjust="spacingAndGlyphs" >4.6</text><line x1="52" y1="970.08" x2="556.5" y2="970.08" stroke="#d9d9d9" stroke-width="0.9"/><line x1="47.5" y1="970.08" x2="51" y2="970.08" stroke="#222" stroke-width="1"/><text x="36.00" y="972.38" font-size="6.8" font-weight="bold" fill="#333" textLength="10.50" lengthAdjust="spacingAndGlyphs" >6.9</text><line x1="52" y1="947.35" x2="556.5" y2="947.35" stroke="#d9d9d9" stroke-width="0.9"/><line x1="47.5" y1="947.35" x2="51" y2="947.35" stroke="#222" stroke-width="1"/><text x="36.00" y="949.65" font-size="6.8" font-weight="bold" fill="#333" textLength="10.50" lengthAdjust="spacingAndGlyphs" >9.2</text><line x1="52" y1="924.63" x2="556.5" y2="924.63" stroke="#d9d9d9" stroke-width="0.9"/><line x1="47.5" y1="924.63" x2="51" y2="924.63" stroke="#222" stroke-width="1"/><text x="32.50" y="926.93" font-size="6.8" font-weight="bold" fill="#333" textLength="14.00" lengthAdjust="spacingAndGlyphs" >11.5</text><line x1="52" y1="901.91" x2="556.5" y2="901.91" stroke="#d9d9d9" stroke-width="0.9"/><line x1="47.5" y1="901.91" x2="51" y2="901.91" stroke="#222" stroke-width="1"/><text x="32.50" y="904.21" font-size="6.8" font-weight="bold" fill="#333" textLength="14.00" lengthAdjust="spacingAndGlyphs" >13.8</text><line x1="52" y1="879.18" x2="556.5" y2="879.18" stroke="#d9d9d9" stroke-width="0.9"/><line x1="47.5" y1="879.18" x2="51" y2="879.18" stroke="#222" stroke-width="1"/><text x="32.50" y="881.48" font-size="6.8" font-weight="bold" fill="#333" textLength="14.00" lengthAdjust="spacingAndGlyphs" >16.1</text><line x1="52" y1="856.46" x2="556.5" y2="856.46" stroke="#d9d9d9" stroke-width="0.9"/><line x1="47.5" y1="856.46" x2="51" y2="856.46" stroke="#222" stroke-width="1"/><text x="32.50" y="858.76" font-size="6.8" font-weight="bold" fill="#333" textLength="14.00" lengthAdjust="spacingAndGlyphs" >18.4</text><line x1="52" y1="833.73" x2="556.5" y2="833.73" stroke="#d9d9d9" stroke-width="0.9"/><line x1="47.5" y1="833.73" x2="51" y2="833.73" stroke="#222" stroke-width="1"/><text x="32.50" y="836.03" font-size="6.8" font-weight="bold" fill="#333" textLength="14.00" lengthAdjust="spacingAndGlyphs" >20.7</text><line x1="52" y1="811.01" x2="556.5" y2="811.01" stroke="#d9d9d9" stroke-width="0.9"/><line x1="47.5" y1="811.01" x2="51" y2="811.01" stroke="#222" stroke-width="1"/><text x="39.50" y="813.31" font-size="6.8" font-weight="bold" fill="#333" textLength="7.00" lengthAdjust="spacingAndGlyphs" >23</text><rect x="71.20" y="939.45" width="14.60" height="98.80" fill="#6666f4" stroke="#3a3aa8" stroke-width="0.7"/><rect x="89.26" y="1028.27" width="14.60" height="9.98" fill="#6666f4" stroke="#3a3aa8" stroke-width="0.7"/><rect x="143.44" y="979.27" width="14.60" height="58.98" fill="#6666f4" stroke="#3a3aa8" stroke-width="0.7"/><rect x="161.50" y="890.05" width="14.60" height="148.20" fill="#6666f4" stroke="#3a3aa8" stroke-width="0.7"/><rect x="179.56" y="860.01" width="14.60" height="178.24" fill="#6666f4" stroke="#3a3aa8" stroke-width="0.7"/><rect x="197.62" y="890.05" width="14.60" height="148.20" fill="#6666f4" stroke="#3a3aa8" stroke-width="0.7"/><rect x="215.68" y="988.85" width="14.60" height="49.40" fill="#6666f4" stroke="#3a3aa8" stroke-width="0.7"/><rect x="305.98" y="1015.45" width="14.60" height="22.80" fill="#ff6464" stroke="#b03a3a" stroke-width="0.7"/><rect x="324.04" y="1025.01" width="14.60" height="13.24" fill="#ff6464" stroke="#b03a3a" stroke-width="0.7"/><rect x="342.10" y="1029.75" width="14.60" height="8.50" fill="#ff6464" stroke="#b03a3a" stroke-width="0.7"/><rect x="360.16" y="1029.75" width="14.60" height="8.50" fill="#ff6464" stroke="#b03a3a" stroke-width="0.7"/><rect x="450.46" y="1014.04" width="14.60" height="24.21" fill="#ff6464" stroke="#b03a3a" stroke-width="0.7"/><rect x="468.52" y="857.45" width="14.60" height="180.80" fill="#ff6464" stroke="#b03a3a" stroke-width="0.7"/><rect x="486.58" y="817.53" width="14.60" height="220.72" fill="#ff6464" stroke="#b03a3a" stroke-width="0.7"/><line x1="51" y1="811" x2="51" y2="1039" stroke="#222" stroke-width="1.3"/><line x1="50.5" y1="1038.5" x2="557" y2="1038.5" stroke="#222" stroke-width="1.4"/><line x1="60.44" y1="1038" x2="60.44" y2="1041.5" stroke="#222" stroke-width="1"/><text x="0" y="0" font-size="7.4" fill="#3c3ce4" stroke="#3c3ce4" stroke-width="0.25" transform="translate(59.94,1048.50) rotate(30)">young leaf</text><line x1="78.50" y1="1038" x2="78.50" y2="1041.5" stroke="#222" stroke-width="1"/><text x="0" y="0" font-size="7.4" fill="#3c3ce4" stroke="#3c3ce4" stroke-width="0.25" transform="translate(78.00,1048.50) rotate(30)">flower</text><line x1="96.56" y1="1038" x2="96.56" y2="1041.5" stroke="#222" stroke-width="1"/><text x="0" y="0" font-size="7.4" fill="#3c3ce4" stroke="#3c3ce4" stroke-width="0.25" transform="translate(96.06,1048.50) rotate(30)">one cm pod</text><line x1="114.62" y1="1038" x2="114.62" y2="1041.5" stroke="#222" stroke-width="1"/><text x="0" y="0" font-size="7.4" fill="#3c3ce4" stroke="#3c3ce4" stroke-width="0.25" transform="translate(114.12,1048.50) rotate(30)">pod shell 10DAF</text><line x1="132.68" y1="1038" x2="132.68" y2="1041.5" stroke="#222" stroke-width="1"/><text x="0" y="0" font-size="7.4" fill="#3c3ce4" stroke="#3c3ce4" stroke-width="0.25" transform="translate(132.18,1048.50) rotate(30)">pod shell 14DAF</text><line x1="150.74" y1="1038" x2="150.74" y2="1041.5" stroke="#222" stroke-width="1"/><text x="0" y="0" font-size="7.4" fill="#3c3ce4" stroke="#3c3ce4" stroke-width="0.25" transform="translate(150.24,1048.50) rotate(30)">seed 10DAF</text><line x1="168.80" y1="1038" x2="168.80" y2="1041.5" stroke="#222" stroke-width="1"/><text x="0" y="0" font-size="7.4" fill="#3c3ce4" stroke="#3c3ce4" stroke-width="0.25" transform="translate(168.30,1048.50) rotate(30)">seed 14DAF</text><line x1="186.86" y1="1038" x2="186.86" y2="1041.5" stroke="#222" stroke-width="1"/><text x="0" y="0" font-size="7.4" fill="#3c3ce4" stroke="#3c3ce4" stroke-width="0.25" transform="translate(186.36,1048.50) rotate(30)">seed 21DAF</text><line x1="204.92" y1="1038" x2="204.92" y2="1041.5" stroke="#222" stroke-width="1"/><text x="0" y="0" font-size="7.4" fill="#3c3ce4" stroke="#3c3ce4" stroke-width="0.25" transform="translate(204.42,1048.50) rotate(30)">seed 25DAF</text><line x1="222.98" y1="1038" x2="222.98" y2="1041.5" stroke="#222" stroke-width="1"/><text x="0" y="0" font-size="7.4" fill="#3c3ce4" stroke="#3c3ce4" stroke-width="0.25" transform="translate(222.48,1048.50) rotate(30)">seed 28DAF</text><line x1="241.04" y1="1038" x2="241.04" y2="1041.5" stroke="#222" stroke-width="1"/><text x="0" y="0" font-size="7.4" fill="#3c3ce4" stroke="#3c3ce4" stroke-width="0.25" transform="translate(240.54,1048.50) rotate(30)">seed 35DAF</text><line x1="259.10" y1="1038" x2="259.10" y2="1041.5" stroke="#222" stroke-width="1"/><text x="0" y="0" font-size="7.4" fill="#3c3ce4" stroke="#3c3ce4" stroke-width="0.25" transform="translate(258.60,1048.50) rotate(30)">seed 42DAF</text><line x1="277.16" y1="1038" x2="277.16" y2="1041.5" stroke="#222" stroke-width="1"/><text x="0" y="0" font-size="7.4" fill="#3c3ce4" stroke="#3c3ce4" stroke-width="0.25" transform="translate(276.66,1048.50) rotate(30)">root</text><line x1="295.22" y1="1038" x2="295.22" y2="1041.5" stroke="#222" stroke-width="1"/><text x="0" y="0" font-size="7.4" fill="#3c3ce4" stroke="#3c3ce4" stroke-width="0.25" transform="translate(294.72,1048.50) rotate(30)">nodule</text><line x1="313.28" y1="1038" x2="313.28" y2="1041.5" stroke="#222" stroke-width="1"/><text x="0" y="0" font-size="7.4" fill="#e83434" stroke="#e83434" stroke-width="0.25" transform="translate(312.78,1048.50) rotate(30)">12HA1 UN RH</text><line x1="331.34" y1="1038" x2="331.34" y2="1041.5" stroke="#222" stroke-width="1"/><text x="0" y="0" font-size="7.4" fill="#e83434" stroke="#e83434" stroke-width="0.25" transform="translate(330.84,1048.50) rotate(30)">12HA1 IN RH</text><line x1="349.40" y1="1038" x2="349.40" y2="1041.5" stroke="#222" stroke-width="1"/><text x="0" y="0" font-size="7.4" fill="#e83434" stroke="#e83434" stroke-width="0.25" transform="translate(348.90,1048.50) rotate(30)">24HA1 UN RH</text><line x1="367.46" y1="1038" x2="367.46" y2="1041.5" stroke="#222" stroke-width="1"/><text x="0" y="0" font-size="7.4" fill="#e83434" stroke="#e83434" stroke-width="0.25" transform="translate(366.96,1048.50) rotate(30)">24HA1 IN RH</text><line x1="385.52" y1="1038" x2="385.52" y2="1041.5" stroke="#222" stroke-width="1"/><text x="0" y="0" font-size="7.4" fill="#e83434" stroke="#e83434" stroke-width="0.25" transform="translate(385.02,1048.50) rotate(30)">48HA1 UN RH</text><line x1="403.58" y1="1038" x2="403.58" y2="1041.5" stroke="#222" stroke-width="1"/><text x="0" y="0" font-size="7.4" fill="#e83434" stroke="#e83434" stroke-width="0.25" transform="translate(403.08,1048.50) rotate(30)">48HA1 IN RH</text><line x1="421.64" y1="1038" x2="421.64" y2="1041.5" stroke="#222" stroke-width="1"/><text x="0" y="0" font-size="7.4" fill="#e83434" stroke="#e83434" stroke-width="0.25" transform="translate(421.14,1048.50) rotate(30)">48HA1 Scrip Root</text><line x1="439.70" y1="1038" x2="439.70" y2="1041.5" stroke="#222" stroke-width="1"/><text x="0" y="0" font-size="7.4" fill="#e83434" stroke="#e83434" stroke-width="0.25" transform="translate(439.20,1048.50) rotate(30)">Nodule</text><line x1="457.76" y1="1038" x2="457.76" y2="1041.5" stroke="#222" stroke-width="1"/><text x="0" y="0" font-size="7.4" fill="#e83434" stroke="#e83434" stroke-width="0.25" transform="translate(457.26,1048.50) rotate(30)">Apical Meristem</text><line x1="475.82" y1="1038" x2="475.82" y2="1041.5" stroke="#222" stroke-width="1"/><text x="0" y="0" font-size="7.4" fill="#e83434" stroke="#e83434" stroke-width="0.25" transform="translate(475.32,1048.50) rotate(30)">Flower</text><line x1="493.88" y1="1038" x2="493.88" y2="1041.5" stroke="#222" stroke-width="1"/><text x="0" y="0" font-size="7.4" fill="#e83434" stroke="#e83434" stroke-width="0.25" transform="translate(493.38,1048.50) rotate(30)">Green Pods</text><line x1="511.94" y1="1038" x2="511.94" y2="1041.5" stroke="#222" stroke-width="1"/><text x="0" y="0" font-size="7.4" fill="#e83434" stroke="#e83434" stroke-width="0.25" transform="translate(511.44,1048.50) rotate(30)">Leaves</text><line x1="530.00" y1="1038" x2="530.00" y2="1041.5" stroke="#222" stroke-width="1"/><text x="0" y="0" font-size="7.4" fill="#e83434" stroke="#e83434" stroke-width="0.25" transform="translate(529.50,1048.50) rotate(30)">Root</text><line x1="548.06" y1="1038" x2="548.06" y2="1041.5" stroke="#222" stroke-width="1"/><text x="0" y="0" font-size="7.4" fill="#e83434" stroke="#e83434" stroke-width="0.25" transform="translate(547.56,1048.50) rotate(30)">Root tip</text><rect x="315.2" y="980.5" width="64.69999999999999" height="27.5" rx="3" fill="#000" opacity="0.25" filter="url(#b1)"/><rect x="313.7" y="979" width="64.69999999999999" height="27.5" rx="3" fill="#f0f0f0" stroke="#8a8a8a" stroke-width="1"/><text x="318.20" y="990.60" font-size="8.2" font-weight="bold" fill="#1c1cc8" textLength="55.30" lengthAdjust="spacingAndGlyphs" >12HA1 UN RH</text><text x="318.20" y="1001.60" font-size="8.2" font-weight="normal" fill="#333" textLength="25.80" lengthAdjust="spacingAndGlyphs" >2.3075</text><text x="0" y="0" font-size="12.5" fill="#5a9a30" transform="translate(28.5,965) rotate(-90)" textLength="34" lengthAdjust="spacingAndGlyphs">RPKM</text><text x="272.00" y="1094.50" font-size="13.5" font-weight="normal" fill="#5a8a2a" textLength="63.60" lengthAdjust="spacingAndGlyphs" >Conditions</text><text x="18.50" y="1086.00" font-size="42" font-weight="normal" fill="#000" textLength="31.00" lengthAdjust="spacingAndGlyphs" >b.</text><path d="M21.5,1101.05 L19,1102.85 L21.5,1104.6499999999999 Z" fill="#444"/><rect x="26" y="1098.5" width="540" height="8.700000000000045" rx="2" fill="url(#scrl)" stroke="#b0b0b0" stroke-width="0.6"/><path d="M574.5,1101.05 L577,1102.85 L574.5,1104.6499999999999 Z" fill="#444"/><line x1="294.40" y1="1101.05" x2="294.40" y2="1104.65" stroke="#8a8a8a" stroke-width="0.7"/><line x1="296.00" y1="1101.05" x2="296.00" y2="1104.65" stroke="#8a8a8a" stroke-width="0.7"/><line x1="297.60" y1="1101.05" x2="297.60" y2="1104.65" stroke="#8a8a8a" stroke-width="0.7"/></g><g clip-path="url(#clipC)"><g transform="translate(605.56,-2) scale(0.9923,0.988)"><rect x="-10.00" y="0.00" width="630.00" height="63.00" fill="url(#hdrg)" /><rect x="-10.00" y="0.00" width="630.00" height="63.00" fill="url(#hdrglow)" /><ellipse cx="205" cy="32" rx="85" ry="16" fill="#5e9028" opacity="0.45" transform="rotate(28 205 32)" filter="url(#b10)"/><rect x="-10.00" y="0.00" width="630.00" height="63.00" fill="url(#hdrv)" /><rect x="-10.00" y="0.00" width="630.00" height="1.50" fill="#5e8048" /><rect x="-10.00" y="62.50" width="630.00" height="25.00" fill="#0c2205" /><rect x="7.5" y="62.5" width="582.5" height="24.5" rx="2" fill="url(#navg)"/><text x="24" y="78.2" font-size="8.8" font-weight="bold" fill="#f2f2f2" textLength="25.5" lengthAdjust="spacing">Home</text><text x="86" y="78.2" font-size="8.8" font-weight="bold" fill="#f2f2f2" textLength="32" lengthAdjust="spacing">Search</text><text x="154" y="78.2" font-size="8.8" font-weight="bold" fill="#f2f2f2" textLength="35" lengthAdjust="spacing">Browse</text><text x="225" y="78.2" font-size="8.8" font-weight="bold" fill="#f2f2f2" textLength="24.5" lengthAdjust="spacing">Tools</text><text x="285" y="78.2" font-size="8.8" font-weight="bold" fill="#f2f2f2" textLength="47.5" lengthAdjust="spacing">Data Files</text><text x="368" y="78.2" font-size="8.8" font-weight="bold" fill="#f2f2f2" textLength="54.5" lengthAdjust="spacing">Information</text><text x="458" y="78.2" font-size="8.8" font-weight="bold" fill="#f2f2f2" textLength="21" lengthAdjust="spacing">Help</text><text x="515" y="78.2" font-size="8.8" font-weight="bold" fill="#f2f2f2" textLength="27.5" lengthAdjust="spacing">About</text><path d="M20.6,8.6 C25,7.6 31,8.3 34.3,10.8 C34.6,15.5 33.4,20.5 31.2,25.2 C25.5,22 20.8,16 20.6,8.6 Z" fill="#e9b448"/><path d="M27.5,10.8 C30,12 31.8,14.5 32.2,18" stroke="#274d10" stroke-width="1.6" fill="none"/><path d="M38,24.8 C35.3,18 37,9.5 44,7 C49,5.2 55,5.4 58.4,8 C58.6,14 55,21 47,24.6 C44,25.8 40.5,25.8 38,24.8 Z" fill="#8ec153"/><path d="M49,9.8 C45,14 42.5,19.5 41.3,25.5" stroke="#274d10" stroke-width="1.5" fill="none"/><text x="18.60" y="43.80" font-size="29.5" font-weight="bold" fill="#ffffff" textLength="42.40" lengthAdjust="spacingAndGlyphs" font-family="Liberation Sans" >soy</text><rect x="64.4" y="13.4" width="4.7" height="30.4" fill="#8cc152"/><path d="M67.5,37.5 L80.8,25.6" stroke="#8cc152" stroke-width="4.6" fill="none"/><path d="M71.2,31.8 L82,43.6" stroke="#8cc152" stroke-width="5" fill="none"/><rect x="85.5" y="13.4" width="4.7" height="30.4" fill="#8cc152"/><ellipse cx="95.4" cy="34.5" rx="5.6" ry="7.1" stroke="#8cc152" stroke-width="4.3" fill="none"/><rect x="357" y="10" width="95.5" height="14" rx="3" fill="url(#fieldg)"/><rect x="357" y="10" width="8" height="14" rx="3" fill="url(#nubg)"/><rect x="457" y="10" width="97" height="14" rx="3" fill="url(#fieldg)"/><rect x="546" y="10" width="8" height="14" rx="3" fill="url(#nubg)"/><text x="368.80" y="20.00" font-size="8.2" font-weight="bold" fill="#555" textLength="35.20" lengthAdjust="spacingAndGlyphs" >Username</text><line x1="464" y1="17.3" x2="482" y2="17.3" stroke="#222" stroke-width="1.3" stroke-dasharray="1.6,0.5"/><rect x="558" y="10" width="27" height="14" rx="3" fill="url(#gog)"/><text x="565.00" y="19.60" font-size="7" font-weight="bold" fill="#f4f4f4" textLength="12.50" lengthAdjust="spacingAndGlyphs" >Go</text><text x="405.00" y="35.00" font-size="7" font-weight="bold" fill="#8fd24c" textLength="99.50" lengthAdjust="spacingAndGlyphs" >Create an Account with SoyKB</text><text x="364.50" y="43.50" font-size="6.6" font-weight="normal" fill="#e4ecd8" textLength="181.50" lengthAdjust="spacingAndGlyphs" >Login/Account signup only required for access to private data.</text><rect x="-10.00" y="87.50" width="17.50" height="512.50" fill="url(#lstrip)" /><rect x="590.00" y="87.50" width="30.00" height="512.50" fill="url(#rstrip)" /><svg x="7.5" y="87.5" width="582.5" height="89.0" viewBox="7.5 87.5 582.5 89.0" overflow="hidden"><rect x="7.50" y="87.50" width="582.50" height="89.00" fill="url(#bang)" /><ellipse cx="70" cy="120" rx="45" ry="50" fill="#74c030" opacity="0.6" filter="url(#b10)"/><ellipse cx="150" cy="100" rx="40" ry="30" fill="#6cb82a" opacity="0.55" filter="url(#b10)"/><ellipse cx="60" cy="168" rx="50" ry="18" fill="#4e9c1a" opacity="0.45" filter="url(#b10)"/><ellipse cx="185" cy="165" rx="25" ry="15" fill="#4a9a18" opacity="0.3" filter="url(#b10)"/><line x1="104" y1="86" x2="148" y2="174" stroke="#8cca48" stroke-width="5" opacity="0.6" filter="url(#b3)"/><line x1="58" y1="100" x2="86" y2="178" stroke="#8cca48" stroke-width="6" opacity="0.35" filter="url(#b3)"/><line x1="168" y1="88" x2="224" y2="132" stroke="#8cca48" stroke-width="4" opacity="0.65" filter="url(#b3)"/><line x1="20" y1="96" x2="40" y2="178" stroke="#8cca48" stroke-width="6" opacity="0.2" filter="url(#b3)"/><g mask="url(#texmask)"><path d="M236,86 L236,128 L345,101 L420,84 Z" fill="url(#leaftex)" opacity="0.9"/><path d="M178,86 L227,86 L228,127 L205,108 Z" fill="url(#leaftex)" opacity="0.6" filter="url(#b1)"/><path d="M215,178 L240,140 L350,110 L420,88 L430,84 L520,84 L520,178 Z" fill="url(#leaftex)" opacity="0.9"/></g><path d="M230,178 L250,145 L420,112 L600,100 L600,178 Z" fill="#2c760c" opacity="0.35" filter="url(#b6)"/><ellipse cx="520" cy="120" rx="70" ry="30" fill="#62ae28" opacity="0.5" filter="url(#b10)"/><path d="M515,80 L600,80 L600,132 Z" fill="#94d04a" opacity="0.75" filter="url(#b6)"/><path d="M137,182 L214,182 L239,137 L300,120 L350,108 L395,97 L440,84 L412,84 L385,91 L345,99 L296,111 L224,129 L198,141 L172,157 L148,172 Z" fill="#b2d84a" opacity="1" filter="url(#b3)"/><path d="M152,182 L204,182 L236,136 L224,131 L192,147 Z" fill="#bede54" opacity="0.9" filter="url(#b3)"/><path d="M222,134 L242,134 L234,116 L229,116 Z" fill="#bade52" filter="url(#b1)"/><path d="M182,182 Q206,153 233,134 Q300,114 350,103 Q385,95 428,82" stroke="#c8e660" stroke-width="8.5" fill="none" opacity="1" filter="url(#b1)"/><path d="M229.5,84 Q230.5,112 233,133" stroke="#bee258" stroke-width="7.5" fill="none" filter="url(#b1)"/><rect x="7.50" y="87.50" width="582.50" height="89.00" fill="url(#banv)" /><rect x="7.50" y="87.50" width="14.00" height="89.00" fill="url(#banl)" /></svg><rect x="7.0" y="87.0" width="583.5" height="90.0" fill="none" stroke="#0a1a04" stroke-width="1.2"/><g filter="url(#tsh)"><text x="307.00" y="144.80" font-size="15.4" font-weight="normal" fill="#c8f08c" textLength="211.00" lengthAdjust="spacingAndGlyphs" stroke="#c8f08c" stroke-width="0.35">SOYBEAN KNOWLEDGE BASE</text><text x="522.30" y="144.80" font-size="12.2" font-weight="bold" fill="#f4f4ee" textLength="45.50" lengthAdjust="spacingAndGlyphs" >(SoyKB)</text><text x="256.70" y="163.40" font-size="14.6" font-weight="bold" fill="#f4fae4" textLength="309.30" lengthAdjust="spacingAndGlyphs" >A web resource for Soybean Translational Genomics</text></g></g><rect x="613.00" y="173.00" width="578.00" height="380.00" fill="#eeefe9" /><rect x="613.00" y="553.00" width="578.00" height="11.00" fill="#4a5e30" /><rect x="622.8" y="182.4" width="13.2" height="4.2" rx="1" fill="#94c468" stroke="#557a3c" stroke-width="0.9"/><rect x="1004.00" y="184.00" width="91.00" height="9.50" fill="#4e7a1e" stroke="#8a9a7a" stroke-width="0.6"/><text x="1005.50" y="192.20" font-size="8.075" font-weight="normal" fill="#d8ecc0" textLength="46.41" lengthAdjust="spacingAndGlyphs" >Quick Search</text><rect x="1098.50" y="184.00" width="68.00" height="9.50" fill="#4e7a1e" stroke="#8a9a7a" stroke-width="0.6"/><text x="1100.50" y="192.20" font-size="8.075" font-weight="normal" fill="#d8ecc0" textLength="36.72" lengthAdjust="spacingAndGlyphs" >Gene Card</text><rect x="1157.47" y="184.50" width="8.53" height="8.50" fill="#e8e8e8" stroke="#999" stroke-width="0.5"/><path d="M1159.6875,187.75 L1163.6875,187.75 L1161.6875,190.25 Z" fill="#111"/><rect x="1170" y="184" width="12.5" height="9.5" rx="1.5" fill="#ececec" stroke="#888" stroke-width="0.6"/><text x="1171.00" y="192.20" font-size="8.8825" font-weight="normal" fill="#333" textLength="10.20" lengthAdjust="spacingAndGlyphs" >Go</text><text x="692.50" y="223.50" font-size="23.6" font-weight="bold" fill="#128a14" textLength="418.50" lengthAdjust="spacingAndGlyphs" >Transcriptomics [Microarray - Tissue]</text><rect x="621.70" y="231.70" width="560.80" height="294.30" fill="#ffffff" /><rect x="657.40" y="237.30" width="4.90" height="1.60" fill="#6b8a50" /><text x="665.00" y="241.70" font-size="8.8" font-weight="normal" fill="#6b8a50" textLength="102.00" lengthAdjust="spacingAndGlyphs" >GmaAffx.80720.1.S1_at</text><line x1="657" y1="243.65" x2="1156" y2="243.65" stroke="#d9d9d9" stroke-width="0.9"/><line x1="652.5" y1="243.65" x2="655.7" y2="243.65" stroke="#222" stroke-width="1"/><text x="648.10" y="245.95" font-size="6.8" font-weight="bold" fill="#333" textLength="3.60" lengthAdjust="spacingAndGlyphs" >4</text><line x1="657" y1="254.85" x2="1156" y2="254.85" stroke="#d9d9d9" stroke-width="0.9"/><line x1="652.5" y1="254.85" x2="655.7" y2="254.85" stroke="#222" stroke-width="1"/><text x="640.90" y="257.15" font-size="6.8" font-weight="bold" fill="#333" textLength="10.80" lengthAdjust="spacingAndGlyphs" >3.5</text><line x1="657" y1="266.05" x2="1156" y2="266.05" stroke="#d9d9d9" stroke-width="0.9"/><line x1="652.5" y1="266.05" x2="655.7" y2="266.05" stroke="#222" stroke-width="1"/><text x="648.10" y="268.35" font-size="6.8" font-weight="bold" fill="#333" textLength="3.60" lengthAdjust="spacingAndGlyphs" >3</text><line x1="657" y1="277.25" x2="1156" y2="277.25" stroke="#d9d9d9" stroke-width="0.9"/><line x1="652.5" y1="277.25" x2="655.7" y2="277.25" stroke="#222" stroke-width="1"/><text x="640.90" y="279.55" font-size="6.8" font-weight="bold" fill="#333" textLength="10.80" lengthAdjust="spacingAndGlyphs" >2.5</text><line x1="657" y1="288.45" x2="1156" y2="288.45" stroke="#d9d9d9" stroke-width="0.9"/><line x1="652.5" y1="288.45" x2="655.7" y2="288.45" stroke="#222" stroke-width="1"/><text x="648.10" y="290.75" font-size="6.8" font-weight="bold" fill="#333" textLength="3.60" lengthAdjust="spacingAndGlyphs" >2</text><line x1="657" y1="299.65" x2="1156" y2="299.65" stroke="#d9d9d9" stroke-width="0.9"/><line x1="652.5" y1="299.65" x2="655.7" y2="299.65" stroke="#222" stroke-width="1"/><text x="640.90" y="301.95" font-size="6.8" font-weight="bold" fill="#333" textLength="10.80" lengthAdjust="spacingAndGlyphs" >1.5</text><line x1="657" y1="310.85" x2="1156" y2="310.85" stroke="#d9d9d9" stroke-width="0.9"/><line x1="652.5" y1="310.85" x2="655.7" y2="310.85" stroke="#222" stroke-width="1"/><text x="648.10" y="313.15" font-size="6.8" font-weight="bold" fill="#333" textLength="3.60" lengthAdjust="spacingAndGlyphs" >1</text><line x1="657" y1="322.05" x2="1156" y2="322.05" stroke="#d9d9d9" stroke-width="0.9"/><line x1="652.5" y1="322.05" x2="655.7" y2="322.05" stroke="#222" stroke-width="1"/><text x="640.90" y="324.35" font-size="6.8" font-weight="bold" fill="#333" textLength="10.80" lengthAdjust="spacingAndGlyphs" >0.5</text><line x1="657" y1="333.25" x2="1156" y2="333.25" stroke="#d9d9d9" stroke-width="0.9"/><line x1="652.5" y1="333.25" x2="655.7" y2="333.25" stroke="#222" stroke-width="1"/><text x="648.10" y="335.55" font-size="6.8" font-weight="bold" fill="#333" textLength="3.60" lengthAdjust="spacingAndGlyphs" >0</text><line x1="657" y1="344.45" x2="1156" y2="344.45" stroke="#d9d9d9" stroke-width="0.9"/><line x1="652.5" y1="344.45" x2="655.7" y2="344.45" stroke="#222" stroke-width="1"/><text x="637.30" y="346.75" font-size="6.8" font-weight="bold" fill="#333" textLength="14.40" lengthAdjust="spacingAndGlyphs" >-0.5</text><line x1="652.5" y1="355.65" x2="655.7" y2="355.65" stroke="#222" stroke-width="1"/><text x="644.50" y="357.95" font-size="6.8" font-weight="bold" fill="#333" textLength="7.20" lengthAdjust="spacingAndGlyphs" >-1</text><rect x="658.20" y="333.25" width="15.00" height="6.27" fill="#7d9e60" stroke="#5a7444" stroke-width="0.8"/><rect x="676.72" y="333.25" width="15.00" height="9.18" fill="#7d9e60" stroke="#5a7444" stroke-width="0.8"/><rect x="695.24" y="333.25" width="15.00" height="1.12" fill="#7d9e60" stroke="#5a7444" stroke-width="0.8"/><rect x="713.76" y="322.95" width="15.00" height="10.30" fill="#7d9e60" stroke="#5a7444" stroke-width="0.8"/><rect x="750.80" y="332.95" width="15.00" height="0.60" fill="#7d9e60" stroke="#5a7444" stroke-width="0.8"/><rect x="769.32" y="331.01" width="15.00" height="2.24" fill="#7d9e60" stroke="#5a7444" stroke-width="0.8"/><rect x="787.84" y="319.59" width="15.00" height="13.66" fill="#7d9e60" stroke="#5a7444" stroke-width="0.8"/><rect x="806.36" y="297.84" width="15.00" height="35.41" fill="#7d9e60" stroke="#5a7444" stroke-width="0.8"/><rect x="824.88" y="320.71" width="15.00" height="12.54" fill="#7d9e60" stroke="#5a7444" stroke-width="0.8"/><rect x="843.40" y="295.39" width="15.00" height="37.86" fill="#7d9e60" stroke="#5a7444" stroke-width="0.8"/><rect x="861.92" y="311.97" width="15.00" height="21.28" fill="#7d9e60" stroke="#5a7444" stroke-width="0.8"/><rect x="880.44" y="333.25" width="15.00" height="4.70" fill="#7d9e60" stroke="#5a7444" stroke-width="0.8"/><rect x="898.96" y="333.25" width="15.00" height="11.65" fill="#7d9e60" stroke="#5a7444" stroke-width="0.8"/><rect x="917.48" y="326.98" width="15.00" height="6.27" fill="#7d9e60" stroke="#5a7444" stroke-width="0.8"/><rect x="936.00" y="322.95" width="15.00" height="10.30" fill="#7d9e60" stroke="#5a7444" stroke-width="0.8"/><rect x="954.52" y="249.92" width="15.00" height="83.33" fill="#7d9e60" stroke="#5a7444" stroke-width="0.8"/><rect x="973.04" y="244.55" width="15.00" height="88.70" fill="#7d9e60" stroke="#5a7444" stroke-width="0.8"/><rect x="991.56" y="333.25" width="15.00" height="8.29" fill="#7d9e60" stroke="#5a7444" stroke-width="0.8"/><rect x="1010.08" y="319.25" width="15.00" height="14.00" fill="#7d9e60" stroke="#5a7444" stroke-width="0.8"/><rect x="1028.60" y="333.25" width="15.00" height="6.27" fill="#7d9e60" stroke="#5a7444" stroke-width="0.8"/><rect x="1047.12" y="333.25" width="15.00" height="15.90" fill="#7d9e60" stroke="#5a7444" stroke-width="0.8"/><rect x="1065.64" y="333.25" width="15.00" height="18.82" fill="#7d9e60" stroke="#5a7444" stroke-width="0.8"/><rect x="1084.16" y="333.25" width="15.00" height="18.82" fill="#7d9e60" stroke="#5a7444" stroke-width="0.8"/><rect x="1102.68" y="333.25" width="15.00" height="6.27" fill="#7d9e60" stroke="#5a7444" stroke-width="0.8"/><rect x="1121.20" y="333.25" width="15.00" height="13.22" fill="#7d9e60" stroke="#5a7444" stroke-width="0.8"/><rect x="1139.72" y="333.25" width="15.00" height="6.27" fill="#7d9e60" stroke="#5a7444" stroke-width="0.8"/><line x1="655.7" y1="244" x2="655.7" y2="357" stroke="#222" stroke-width="1.3"/><line x1="655" y1="356.2" x2="1156.5" y2="356.2" stroke="#222" stroke-width="1.4"/><line x1="665.70" y1="356" x2="665.70" y2="359.5" stroke="#222" stroke-width="1"/><text x="0" y="0" font-size="7.0" fill="#222" stroke="#222" stroke-width="0.12" transform="translate(666.70,362.50) rotate(45)">Mature Pollen Grain</text><line x1="684.22" y1="356" x2="684.22" y2="359.5" stroke="#222" stroke-width="1"/><text x="0" y="0" font-size="7.0" fill="#222" stroke="#222" stroke-width="0.12" transform="translate(685.22,362.50) rotate(45)">Mature Pollen Grain</text><line x1="702.74" y1="356" x2="702.74" y2="359.5" stroke="#222" stroke-width="1"/><text x="0" y="0" font-size="7.0" fill="#222" stroke="#222" stroke-width="0.12" transform="translate(703.74,362.50) rotate(45)">Mature Pollen Grain</text><line x1="721.26" y1="356" x2="721.26" y2="359.5" stroke="#222" stroke-width="1"/><text x="0" y="0" font-size="7.0" fill="#222" stroke="#222" stroke-width="0.12" transform="translate(722.26,362.50) rotate(45)">Shoot Apical Meristem</text><line x1="739.78" y1="356" x2="739.78" y2="359.5" stroke="#222" stroke-width="1"/><text x="0" y="0" font-size="7.0" fill="#222" stroke="#222" stroke-width="0.12" transform="translate(740.78,362.50) rotate(45)">Shoot Apical Meristem</text><line x1="758.30" y1="356" x2="758.30" y2="359.5" stroke="#222" stroke-width="1"/><text x="0" y="0" font-size="7.0" fill="#222" stroke="#222" stroke-width="0.12" transform="translate(759.30,362.50) rotate(45)">Axillary Meristem</text><line x1="776.82" y1="356" x2="776.82" y2="359.5" stroke="#222" stroke-width="1"/><text x="0" y="0" font-size="7.0" fill="#222" stroke="#222" stroke-width="0.12" transform="translate(777.82,362.50) rotate(45)">Axillary Meristem</text><line x1="795.34" y1="356" x2="795.34" y2="359.5" stroke="#222" stroke-width="1"/><text x="0" y="0" font-size="7.0" fill="#222" stroke="#222" stroke-width="0.12" transform="translate(796.34,362.50) rotate(45)">Soybean V2 trifoliate leaf, strain 2601R (Variety) Sample (Rep) 2</text><line x1="813.86" y1="356" x2="813.86" y2="359.5" stroke="#222" stroke-width="1"/><text x="0" y="0" font-size="7.0" fill="#222" stroke="#222" stroke-width="0.12" transform="translate(814.86,362.50) rotate(45)">Soybean V2 trifoliate leaf, strain 2601R (Variety) Sample 3</text><line x1="832.38" y1="356" x2="832.38" y2="359.5" stroke="#222" stroke-width="1"/><text x="0" y="0" font-size="7.0" fill="#222" stroke="#222" stroke-width="0.12" transform="translate(833.38,362.50) rotate(45)">Soybean V2 trifoliate leaf, strain 2601R (Variety) Sample 4</text><line x1="850.90" y1="356" x2="850.90" y2="359.5" stroke="#222" stroke-width="1"/><text x="0" y="0" font-size="7.0" fill="#222" stroke="#222" stroke-width="0.12" transform="translate(851.90,362.50) rotate(45)">Soybean V2 trifoliate leaf, strain 2601R (Variety) sample 5</text><line x1="869.42" y1="356" x2="869.42" y2="359.5" stroke="#222" stroke-width="1"/><text x="0" y="0" font-size="7.0" fill="#222" stroke="#222" stroke-width="0.12" transform="translate(870.42,362.50) rotate(45)">Soybean V2 trifoliate leaf, strain 2601R (Variety) sample 6</text><line x1="887.94" y1="356" x2="887.94" y2="359.5" stroke="#222" stroke-width="1"/><text x="0" y="0" font-size="7.0" fill="#222" stroke="#222" stroke-width="0.12" transform="translate(888.94,362.50) rotate(45)">Leaf</text><line x1="906.46" y1="356" x2="906.46" y2="359.5" stroke="#222" stroke-width="1"/><text x="0" y="0" font-size="7.0" fill="#222" stroke="#222" stroke-width="0.12" transform="translate(907.46,362.50) rotate(45)">Leaf</text><line x1="924.98" y1="356" x2="924.98" y2="359.5" stroke="#222" stroke-width="1"/><text x="0" y="0" font-size="7.0" fill="#222" stroke="#222" stroke-width="0.12" transform="translate(925.98,362.50) rotate(45)">Endosperm CotyledonStage</text><line x1="943.50" y1="356" x2="943.50" y2="359.5" stroke="#222" stroke-width="1"/><text x="0" y="0" font-size="7.0" fill="#222" stroke="#222" stroke-width="0.12" transform="translate(944.50,362.50) rotate(45)">Endosperm CotyledonStage</text><line x1="962.02" y1="356" x2="962.02" y2="359.5" stroke="#222" stroke-width="1"/><text x="0" y="0" font-size="7.0" fill="#222" stroke="#222" stroke-width="0.12" transform="translate(963.02,362.50) rotate(45)">WholeSeed CotyledonStage</text><line x1="980.54" y1="356" x2="980.54" y2="359.5" stroke="#222" stroke-width="1"/><text x="0" y="0" font-size="7.0" fill="#222" stroke="#222" stroke-width="0.12" transform="translate(981.54,362.50) rotate(45)">WholeSeed CotyledonStage</text><line x1="999.06" y1="356" x2="999.06" y2="359.5" stroke="#222" stroke-width="1"/><text x="0" y="0" font-size="7.0" fill="#222" stroke="#222" stroke-width="0.12" transform="translate(1000.06,362.50) rotate(45)">Pericycle Cell</text><line x1="1017.58" y1="356" x2="1017.58" y2="359.5" stroke="#222" stroke-width="1"/><text x="0" y="0" font-size="7.0" fill="#222" stroke="#222" stroke-width="0.12" transform="translate(1018.58,362.50) rotate(45)">Pericycle Cell</text><line x1="1036.10" y1="356" x2="1036.10" y2="359.5" stroke="#222" stroke-width="1"/><text x="0" y="0" font-size="7.0" fill="#222" stroke="#222" stroke-width="0.12" transform="translate(1037.10,362.50) rotate(45)">Pericycle Cell</text><line x1="1054.62" y1="356" x2="1054.62" y2="359.5" stroke="#222" stroke-width="1"/><text x="0" y="0" font-size="7.0" fill="#222" stroke="#222" stroke-width="0.12" transform="translate(1055.62,362.50) rotate(45)">Root</text><line x1="1073.14" y1="356" x2="1073.14" y2="359.5" stroke="#222" stroke-width="1"/><text x="0" y="0" font-size="7.0" fill="#222" stroke="#222" stroke-width="0.12" transform="translate(1074.14,362.50) rotate(45)">Root</text><line x1="1091.66" y1="356" x2="1091.66" y2="359.5" stroke="#222" stroke-width="1"/><text x="0" y="0" font-size="7.0" fill="#222" stroke="#222" stroke-width="0.12" transform="translate(1092.66,362.50) rotate(45)">Root</text><line x1="1110.18" y1="356" x2="1110.18" y2="359.5" stroke="#222" stroke-width="1"/><text x="0" y="0" font-size="7.0" fill="#222" stroke="#222" stroke-width="0.12" transform="translate(1111.18,362.50) rotate(45)">Hypocotyl</text><line x1="1128.70" y1="356" x2="1128.70" y2="359.5" stroke="#222" stroke-width="1"/><text x="0" y="0" font-size="7.0" fill="#222" stroke="#222" stroke-width="0.12" transform="translate(1129.70,362.50) rotate(45)">Hypocotyl</text><line x1="1147.22" y1="356" x2="1147.22" y2="359.5" stroke="#222" stroke-width="1"/><text x="0" y="0" font-size="7.0" fill="#222" stroke="#222" stroke-width="0.12" transform="translate(1148.22,362.50) rotate(45)">Hypocotyl</text><rect x="816.0" y="262.5" width="105.0" height="28" rx="3" fill="#000" opacity="0.25" filter="url(#b1)"/><rect x="814.5" y="261" width="105.0" height="28" rx="3" fill="#f0f0f0" stroke="#8a8a8a" stroke-width="1"/><text x="819.00" y="273.20" font-size="8.2" font-weight="bold" fill="#1c1cc8" textLength="96.50" lengthAdjust="spacingAndGlyphs" >GmaAffx.80720.1.S1_at</text><text x="819.00" y="283.60" font-size="8.2" font-weight="normal" fill="#333" textLength="20.30" lengthAdjust="spacingAndGlyphs" >1.581</text><text x="0" y="0" font-size="12.5" fill="#6a9a3a" transform="translate(635.5,412.5) rotate(-90)" textLength="66.5" lengthAdjust="spacingAndGlyphs">Fold Change</text><text x="876.00" y="522.50" font-size="13.5" font-weight="normal" fill="#5a8a2a" textLength="62.00" lengthAdjust="spacingAndGlyphs" >Conditions</text><text x="634.00" y="517.00" font-size="40" font-weight="normal" fill="#000" textLength="27.00" lengthAdjust="spacingAndGlyphs" >c.</text><rect x="621.70" y="526.00" width="560.80" height="9.20" fill="#ececec" /><path d="M628.2,528.85 L625.7,530.65 L628.2,532.4499999999999 Z" fill="#444"/><rect x="632" y="526.3" width="534" height="8.700000000000045" rx="2" fill="url(#scrl)" stroke="#b0b0b0" stroke-width="0.6"/><path d="M1175.5,528.85 L1178,530.65 L1175.5,532.4499999999999 Z" fill="#444"/><line x1="897.40" y1="528.85" x2="897.40" y2="532.45" stroke="#8a8a8a" stroke-width="0.7"/><line x1="899.00" y1="528.85" x2="899.00" y2="532.45" stroke="#8a8a8a" stroke-width="0.7"/><line x1="900.60" y1="528.85" x2="900.60" y2="532.45" stroke="#8a8a8a" stroke-width="0.7"/></g><g clip-path="url(#clipD)"><g transform="translate(603.51,572) scale(0.9983,1)"><rect x="-10.00" y="0.00" width="630.00" height="63.00" fill="url(#hdrg)" /><rect x="-10.00" y="0.00" width="630.00" height="63.00" fill="url(#hdrglow)" /><ellipse cx="205" cy="32" rx="85" ry="16" fill="#5e9028" opacity="0.45" transform="rotate(28 205 32)" filter="url(#b10)"/><rect x="-10.00" y="0.00" width="630.00" height="63.00" fill="url(#hdrv)" /><rect x="-10.00" y="0.00" width="630.00" height="1.50" fill="#5e8048" /><rect x="-10.00" y="62.50" width="630.00" height="25.00" fill="#0c2205" /><rect x="7.5" y="62.5" width="582.5" height="24.5" rx="2" fill="url(#navg)"/><text x="24" y="78.2" font-size="8.8" font-weight="bold" fill="#f2f2f2" textLength="25.5" lengthAdjust="spacing">Home</text><text x="86" y="78.2" font-size="8.8" font-weight="bold" fill="#f2f2f2" textLength="32" lengthAdjust="spacing">Search</text><text x="154" y="78.2" font-size="8.8" font-weight="bold" fill="#f2f2f2" textLength="35" lengthAdjust="spacing">Browse</text><text x="225" y="78.2" font-size="8.8" font-weight="bold" fill="#f2f2f2" textLength="24.5" lengthAdjust="spacing">Tools</text><text x="285" y="78.2" font-size="8.8" font-weight="bold" fill="#f2f2f2" textLength="47.5" lengthAdjust="spacing">Data Files</text><text x="368" y="78.2" font-size="8.8" font-weight="bold" fill="#f2f2f2" textLength="54.5" lengthAdjust="spacing">Information</text><text x="458" y="78.2" font-size="8.8" font-weight="bold" fill="#f2f2f2" textLength="21" lengthAdjust="spacing">Help</text><text x="515" y="78.2" font-size="8.8" font-weight="bold" fill="#f2f2f2" textLength="27.5" lengthAdjust="spacing">About</text><path d="M20.6,8.6 C25,7.6 31,8.3 34.3,10.8 C34.6,15.5 33.4,20.5 31.2,25.2 C25.5,22 20.8,16 20.6,8.6 Z" fill="#e9b448"/><path d="M27.5,10.8 C30,12 31.8,14.5 32.2,18" stroke="#274d10" stroke-width="1.6" fill="none"/><path d="M38,24.8 C35.3,18 37,9.5 44,7 C49,5.2 55,5.4 58.4,8 C58.6,14 55,21 47,24.6 C44,25.8 40.5,25.8 38,24.8 Z" fill="#8ec153"/><path d="M49,9.8 C45,14 42.5,19.5 41.3,25.5" stroke="#274d10" stroke-width="1.5" fill="none"/><text x="18.60" y="43.80" font-size="29.5" font-weight="bold" fill="#ffffff" textLength="42.40" lengthAdjust="spacingAndGlyphs" font-family="Liberation Sans" >soy</text><rect x="64.4" y="13.4" width="4.7" height="30.4" fill="#8cc152"/><path d="M67.5,37.5 L80.8,25.6" stroke="#8cc152" stroke-width="4.6" fill="none"/><path d="M71.2,31.8 L82,43.6" stroke="#8cc152" stroke-width="5" fill="none"/><rect x="85.5" y="13.4" width="4.7" height="30.4" fill="#8cc152"/><ellipse cx="95.4" cy="34.5" rx="5.6" ry="7.1" stroke="#8cc152" stroke-width="4.3" fill="none"/><rect x="357" y="10" width="95.5" height="14" rx="3" fill="url(#fieldg)"/><rect x="357" y="10" width="8" height="14" rx="3" fill="url(#nubg)"/><rect x="457" y="10" width="97" height="14" rx="3" fill="url(#fieldg)"/><rect x="546" y="10" width="8" height="14" rx="3" fill="url(#nubg)"/><text x="368.80" y="20.00" font-size="8.2" font-weight="bold" fill="#555" textLength="35.20" lengthAdjust="spacingAndGlyphs" >Username</text><line x1="464" y1="17.3" x2="482" y2="17.3" stroke="#222" stroke-width="1.3" stroke-dasharray="1.6,0.5"/><rect x="558" y="10" width="27" height="14" rx="3" fill="url(#gog)"/><text x="565.00" y="19.60" font-size="7" font-weight="bold" fill="#f4f4f4" textLength="12.50" lengthAdjust="spacingAndGlyphs" >Go</text><text x="405.00" y="35.00" font-size="7" font-weight="bold" fill="#8fd24c" textLength="99.50" lengthAdjust="spacingAndGlyphs" >Create an Account with SoyKB</text><text x="364.50" y="43.50" font-size="6.6" font-weight="normal" fill="#e4ecd8" textLength="181.50" lengthAdjust="spacingAndGlyphs" >Login/Account signup only required for access to private data.</text><rect x="-10.00" y="87.50" width="17.50" height="512.50" fill="url(#lstrip)" /><rect x="590.00" y="87.50" width="30.00" height="512.50" fill="url(#rstrip)" /><svg x="7.5" y="87.5" width="582.5" height="89.0" viewBox="7.5 87.5 582.5 89.0" overflow="hidden"><rect x="7.50" y="87.50" width="582.50" height="89.00" fill="url(#bang)" /><ellipse cx="70" cy="120" rx="45" ry="50" fill="#74c030" opacity="0.6" filter="url(#b10)"/><ellipse cx="150" cy="100" rx="40" ry="30" fill="#6cb82a" opacity="0.55" filter="url(#b10)"/><ellipse cx="60" cy="168" rx="50" ry="18" fill="#4e9c1a" opacity="0.45" filter="url(#b10)"/><ellipse cx="185" cy="165" rx="25" ry="15" fill="#4a9a18" opacity="0.3" filter="url(#b10)"/><line x1="104" y1="86" x2="148" y2="174" stroke="#8cca48" stroke-width="5" opacity="0.6" filter="url(#b3)"/><line x1="58" y1="100" x2="86" y2="178" stroke="#8cca48" stroke-width="6" opacity="0.35" filter="url(#b3)"/><line x1="168" y1="88" x2="224" y2="132" stroke="#8cca48" stroke-width="4" opacity="0.65" filter="url(#b3)"/><line x1="20" y1="96" x2="40" y2="178" stroke="#8cca48" stroke-width="6" opacity="0.2" filter="url(#b3)"/><g mask="url(#texmask)"><path d="M236,86 L236,128 L345,101 L420,84 Z" fill="url(#leaftex)" opacity="0.9"/><path d="M178,86 L227,86 L228,127 L205,108 Z" fill="url(#leaftex)" opacity="0.6" filter="url(#b1)"/><path d="M215,178 L240,140 L350,110 L420,88 L430,84 L520,84 L520,178 Z" fill="url(#leaftex)" opacity="0.9"/></g><path d="M230,178 L250,145 L420,112 L600,100 L600,178 Z" fill="#2c760c" opacity="0.35" filter="url(#b6)"/><ellipse cx="520" cy="120" rx="70" ry="30" fill="#62ae28" opacity="0.5" filter="url(#b10)"/><path d="M515,80 L600,80 L600,132 Z" fill="#94d04a" opacity="0.75" filter="url(#b6)"/><path d="M137,182 L214,182 L239,137 L300,120 L350,108 L395,97 L440,84 L412,84 L385,91 L345,99 L296,111 L224,129 L198,141 L172,157 L148,172 Z" fill="#b2d84a" opacity="1" filter="url(#b3)"/><path d="M152,182 L204,182 L236,136 L224,131 L192,147 Z" fill="#bede54" opacity="0.9" filter="url(#b3)"/><path d="M222,134 L242,134 L234,116 L229,116 Z" fill="#bade52" filter="url(#b1)"/><path d="M182,182 Q206,153 233,134 Q300,114 350,103 Q385,95 428,82" stroke="#c8e660" stroke-width="8.5" fill="none" opacity="1" filter="url(#b1)"/><path d="M229.5,84 Q230.5,112 233,133" stroke="#bee258" stroke-width="7.5" fill="none" filter="url(#b1)"/><rect x="7.50" y="87.50" width="582.50" height="89.00" fill="url(#banv)" /><rect x="7.50" y="87.50" width="14.00" height="89.00" fill="url(#banl)" /></svg><rect x="7.0" y="87.0" width="583.5" height="90.0" fill="none" stroke="#0a1a04" stroke-width="1.2"/><g filter="url(#tsh)"><text x="307.00" y="144.80" font-size="15.4" font-weight="normal" fill="#c8f08c" textLength="211.00" lengthAdjust="spacingAndGlyphs" stroke="#c8f08c" stroke-width="0.35">SOYBEAN KNOWLEDGE BASE</text><text x="522.30" y="144.80" font-size="12.2" font-weight="bold" fill="#f4f4ee" textLength="45.50" lengthAdjust="spacingAndGlyphs" >(SoyKB)</text><text x="256.70" y="163.40" font-size="14.6" font-weight="bold" fill="#f4fae4" textLength="309.30" lengthAdjust="spacingAndGlyphs" >A web resource for Soybean Translational Genomics</text></g></g><rect x="611.00" y="749.00" width="581.50" height="385.00" fill="#eeefe9" /><rect x="621" y="759" width="13.5" height="12.5" rx="2.2" fill="url(#chk)" stroke="#8aa47e" stroke-width="0.8"/><path d="M627.95,768.40 L632.19,764.33" stroke="#2a5a10" stroke-width="1.2" fill="none" opacity="0.8"/><path d="M624.78,764.50 L627.35,767.00 L630.99,763.12" stroke="#f4fff0" stroke-width="2" fill="none" stroke-linecap="round" stroke-linejoin="round"/><text x="643.00" y="769.60" font-size="13.3" font-weight="bold" fill="#333" textLength="63.00" lengthAdjust="spacingAndGlyphs" >Proteomics</text><rect x="1004.00" y="760.00" width="92.00" height="10.00" fill="#4e7a1e" stroke="#8a9a7a" stroke-width="0.6"/><text x="1005.50" y="768.70" font-size="8.5" font-weight="normal" fill="#d8ecc0" textLength="46.92" lengthAdjust="spacingAndGlyphs" >Quick Search</text><rect x="1099.00" y="760.00" width="69.50" height="10.00" fill="#4e7a1e" stroke="#8a9a7a" stroke-width="0.6"/><text x="1101.00" y="768.70" font-size="8.5" font-weight="normal" fill="#d8ecc0" textLength="37.53" lengthAdjust="spacingAndGlyphs" >Gene Card</text><rect x="1159.00" y="760.50" width="9.00" height="9.00" fill="#e8e8e8" stroke="#999" stroke-width="0.5"/><path d="M1161.45,764.0 L1165.45,764.0 L1163.45,766.5 Z" fill="#111"/><rect x="1171.5" y="760" width="12.0" height="10" rx="1.5" fill="#ececec" stroke="#888" stroke-width="0.6"/><text x="1172.50" y="768.70" font-size="9.350000000000001" font-weight="normal" fill="#333" textLength="9.70" lengthAdjust="spacingAndGlyphs" >Go</text><text x="620.00" y="807.60" font-size="7.6" font-weight="bold" fill="#333" textLength="56.00" lengthAdjust="spacingAndGlyphs" >View Sub-Graph:</text><rect x="620.00" y="811.00" width="564.50" height="323.00" fill="#ffffff" /><line x1="662.00" y1="823.5" x2="662.00" y2="1005" stroke="#dcdcdc" stroke-width="0.8"/><line x1="676.03" y1="823.5" x2="676.03" y2="1005" stroke="#dcdcdc" stroke-width="0.8"/><line x1="690.06" y1="823.5" x2="690.06" y2="1005" stroke="#dcdcdc" stroke-width="0.8"/><line x1="704.09" y1="823.5" x2="704.09" y2="1005" stroke="#dcdcdc" stroke-width="0.8"/><line x1="718.12" y1="823.5" x2="718.12" y2="1005" stroke="#dcdcdc" stroke-width="0.8"/><line x1="732.15" y1="823.5" x2="732.15" y2="1005" stroke="#dcdcdc" stroke-width="0.8"/><line x1="746.18" y1="823.5" x2="746.18" y2="1005" stroke="#dcdcdc" stroke-width="0.8"/><line x1="760.21" y1="823.5" x2="760.21" y2="1005" stroke="#dcdcdc" stroke-width="0.8"/><line x1="774.24" y1="823.5" x2="774.24" y2="1005" stroke="#dcdcdc" stroke-width="0.8"/><line x1="788.27" y1="823.5" x2="788.27" y2="1005" stroke="#dcdcdc" stroke-width="0.8"/><line x1="802.30" y1="823.5" x2="802.30" y2="1005" stroke="#dcdcdc" stroke-width="0.8"/><line x1="816.33" y1="823.5" x2="816.33" y2="1005" stroke="#dcdcdc" stroke-width="0.8"/><line x1="830.36" y1="823.5" x2="830.36" y2="1005" stroke="#dcdcdc" stroke-width="0.8"/><line x1="844.39" y1="823.5" x2="844.39" y2="1005" stroke="#dcdcdc" stroke-width="0.8"/><line x1="858.42" y1="823.5" x2="858.42" y2="1005" stroke="#dcdcdc" stroke-width="0.8"/><line x1="872.45" y1="823.5" x2="872.45" y2="1005" stroke="#dcdcdc" stroke-width="0.8"/><line x1="886.48" y1="823.5" x2="886.48" y2="1005" stroke="#dcdcdc" stroke-width="0.8"/><line x1="900.51" y1="823.5" x2="900.51" y2="1005" stroke="#dcdcdc" stroke-width="0.8"/><line x1="914.54" y1="823.5" x2="914.54" y2="1005" stroke="#dcdcdc" stroke-width="0.8"/><line x1="928.57" y1="823.5" x2="928.57" y2="1005" stroke="#dcdcdc" stroke-width="0.8"/><line x1="942.60" y1="823.5" x2="942.60" y2="1005" stroke="#dcdcdc" stroke-width="0.8"/><line x1="956.63" y1="823.5" x2="956.63" y2="1005" stroke="#dcdcdc" stroke-width="0.8"/><line x1="970.66" y1="823.5" x2="970.66" y2="1005" stroke="#dcdcdc" stroke-width="0.8"/><line x1="984.69" y1="823.5" x2="984.69" y2="1005" stroke="#dcdcdc" stroke-width="0.8"/><line x1="998.72" y1="823.5" x2="998.72" y2="1005" stroke="#dcdcdc" stroke-width="0.8"/><line x1="1012.75" y1="823.5" x2="1012.75" y2="1005" stroke="#dcdcdc" stroke-width="0.8"/><line x1="1026.78" y1="823.5" x2="1026.78" y2="1005" stroke="#dcdcdc" stroke-width="0.8"/><line x1="1040.81" y1="823.5" x2="1040.81" y2="1005" stroke="#dcdcdc" stroke-width="0.8"/><line x1="1054.84" y1="823.5" x2="1054.84" y2="1005" stroke="#dcdcdc" stroke-width="0.8"/><line x1="1068.87" y1="823.5" x2="1068.87" y2="1005" stroke="#dcdcdc" stroke-width="0.8"/><line x1="1082.90" y1="823.5" x2="1082.90" y2="1005" stroke="#dcdcdc" stroke-width="0.8"/><line x1="1096.93" y1="823.5" x2="1096.93" y2="1005" stroke="#dcdcdc" stroke-width="0.8"/><line x1="1110.96" y1="823.5" x2="1110.96" y2="1005" stroke="#dcdcdc" stroke-width="0.8"/><line x1="1124.99" y1="823.5" x2="1124.99" y2="1005" stroke="#dcdcdc" stroke-width="0.8"/><line x1="1139.02" y1="823.5" x2="1139.02" y2="1005" stroke="#dcdcdc" stroke-width="0.8"/><line x1="1153.05" y1="823.5" x2="1153.05" y2="1005" stroke="#dcdcdc" stroke-width="0.8"/><line x1="1167.08" y1="823.5" x2="1167.08" y2="1005" stroke="#dcdcdc" stroke-width="0.8"/><line x1="1181.11" y1="823.5" x2="1181.11" y2="1005" stroke="#dcdcdc" stroke-width="0.8"/><line x1="651.5" y1="1005.00" x2="655" y2="1005.00" stroke="#222" stroke-width="1"/><text x="647.50" y="1007.30" font-size="6.8" font-weight="bold" fill="#333" textLength="3.50" lengthAdjust="spacingAndGlyphs" >0</text><line x1="656" y1="986.87" x2="1184.5" y2="986.87" stroke="#d4d4d4" stroke-width="0.9"/><line x1="651.5" y1="986.87" x2="655" y2="986.87" stroke="#222" stroke-width="1"/><text x="640.50" y="989.17" font-size="6.8" font-weight="bold" fill="#333" textLength="10.50" lengthAdjust="spacingAndGlyphs" >1.6</text><line x1="656" y1="968.74" x2="1184.5" y2="968.74" stroke="#d4d4d4" stroke-width="0.9"/><line x1="651.5" y1="968.74" x2="655" y2="968.74" stroke="#222" stroke-width="1"/><text x="640.50" y="971.04" font-size="6.8" font-weight="bold" fill="#333" textLength="10.50" lengthAdjust="spacingAndGlyphs" >3.2</text><line x1="656" y1="950.62" x2="1184.5" y2="950.62" stroke="#d4d4d4" stroke-width="0.9"/><line x1="651.5" y1="950.62" x2="655" y2="950.62" stroke="#222" stroke-width="1"/><text x="640.50" y="952.92" font-size="6.8" font-weight="bold" fill="#333" textLength="10.50" lengthAdjust="spacingAndGlyphs" >4.8</text><line x1="656" y1="932.49" x2="1184.5" y2="932.49" stroke="#d4d4d4" stroke-width="0.9"/><line x1="651.5" y1="932.49" x2="655" y2="932.49" stroke="#222" stroke-width="1"/><text x="640.50" y="934.79" font-size="6.8" font-weight="bold" fill="#333" textLength="10.50" lengthAdjust="spacingAndGlyphs" >6.4</text><line x1="656" y1="914.36" x2="1184.5" y2="914.36" stroke="#d4d4d4" stroke-width="0.9"/><line x1="651.5" y1="914.36" x2="655" y2="914.36" stroke="#222" stroke-width="1"/><text x="647.50" y="916.66" font-size="6.8" font-weight="bold" fill="#333" textLength="3.50" lengthAdjust="spacingAndGlyphs" >8</text><line x1="656" y1="896.23" x2="1184.5" y2="896.23" stroke="#d4d4d4" stroke-width="0.9"/><line x1="651.5" y1="896.23" x2="655" y2="896.23" stroke="#222" stroke-width="1"/><text x="640.50" y="898.53" font-size="6.8" font-weight="bold" fill="#333" textLength="10.50" lengthAdjust="spacingAndGlyphs" >9.6</text><line x1="656" y1="878.10" x2="1184.5" y2="878.10" stroke="#d4d4d4" stroke-width="0.9"/><line x1="651.5" y1="878.10" x2="655" y2="878.10" stroke="#222" stroke-width="1"/><text x="637.00" y="880.40" font-size="6.8" font-weight="bold" fill="#333" textLength="14.00" lengthAdjust="spacingAndGlyphs" >11.2</text><line x1="656" y1="859.98" x2="1184.5" y2="859.98" stroke="#d4d4d4" stroke-width="0.9"/><line x1="651.5" y1="859.98" x2="655" y2="859.98" stroke="#222" stroke-width="1"/><text x="637.00" y="862.28" font-size="6.8" font-weight="bold" fill="#333" textLength="14.00" lengthAdjust="spacingAndGlyphs" >12.8</text><line x1="656" y1="841.85" x2="1184.5" y2="841.85" stroke="#d4d4d4" stroke-width="0.9"/><line x1="651.5" y1="841.85" x2="655" y2="841.85" stroke="#222" stroke-width="1"/><text x="637.00" y="844.15" font-size="6.8" font-weight="bold" fill="#333" textLength="14.00" lengthAdjust="spacingAndGlyphs" >14.4</text><line x1="656" y1="823.72" x2="1184.5" y2="823.72" stroke="#d4d4d4" stroke-width="0.9"/><line x1="651.5" y1="823.72" x2="655" y2="823.72" stroke="#222" stroke-width="1"/><text x="644.00" y="826.02" font-size="6.8" font-weight="bold" fill="#333" textLength="7.00" lengthAdjust="spacingAndGlyphs" >16</text><line x1="741" y1="823.5" x2="741" y2="1005" stroke="#f08080" stroke-width="1"/><line x1="783" y1="823.5" x2="783" y2="1005" stroke="#f08080" stroke-width="1"/><line x1="825" y1="823.5" x2="825" y2="1005" stroke="#f08080" stroke-width="1"/><line x1="867" y1="823.5" x2="867" y2="1005" stroke="#f08080" stroke-width="1"/><line x1="909" y1="823.5" x2="909" y2="1005" stroke="#f08080" stroke-width="1"/><line x1="951.2" y1="823.5" x2="951.2" y2="1005" stroke="#f08080" stroke-width="1"/><line x1="993.3" y1="823.5" x2="993.3" y2="1005" stroke="#f08080" stroke-width="1"/><line x1="1035.5" y1="823.5" x2="1035.5" y2="1005" stroke="#f08080" stroke-width="1"/><line x1="1077.6" y1="823.5" x2="1077.6" y2="1005" stroke="#f08080" stroke-width="1"/><line x1="1119.8" y1="823.5" x2="1119.8" y2="1005" stroke="#f08080" stroke-width="1"/><line x1="1162.5" y1="823.5" x2="1162.5" y2="1005" stroke="#f08080" stroke-width="1"/><rect x="670.40" y="836.18" width="3.20" height="168.82" fill="#5858b8" /><rect x="684.40" y="846.38" width="3.20" height="158.62" fill="#5858b8" /><rect x="691.40" y="850.91" width="3.20" height="154.09" fill="#5858b8" /><rect x="712.40" y="848.65" width="3.20" height="156.35" fill="#5858b8" /><rect x="726.40" y="852.04" width="3.20" height="152.96" fill="#5858b8" /><rect x="789.65" y="857.71" width="3.20" height="147.29" fill="#5858b8" /><rect x="803.90" y="845.25" width="3.20" height="159.75" fill="#5858b8" /><rect x="817.90" y="855.44" width="3.20" height="149.56" fill="#5858b8" /><rect x="838.90" y="852.04" width="3.20" height="152.96" fill="#5858b8" /><rect x="867.15" y="847.51" width="3.20" height="157.49" fill="#5858b8" /><rect x="874.65" y="853.18" width="3.20" height="151.82" fill="#5858b8" /><rect x="881.40" y="844.11" width="3.20" height="160.89" fill="#1a1a7a" /><rect x="888.40" y="859.98" width="3.20" height="145.02" fill="#5858b8" /><rect x="895.60" y="854.31" width="3.20" height="150.69" fill="#5858b8" /><rect x="923.70" y="838.45" width="3.20" height="166.55" fill="#5858b8" /><rect x="937.70" y="838.45" width="3.20" height="166.55" fill="#5858b8" /><rect x="944.60" y="844.11" width="3.20" height="160.89" fill="#5858b8" /><rect x="972.70" y="844.68" width="3.20" height="160.32" fill="#5858b8" /><rect x="986.70" y="854.31" width="3.20" height="150.69" fill="#5858b8" /><rect x="993.90" y="858.84" width="3.20" height="146.16" fill="#7a4a98" /><rect x="1008.00" y="853.74" width="3.20" height="151.26" fill="#5858b8" /><rect x="1022.00" y="847.51" width="3.20" height="157.49" fill="#5858b8" /><rect x="1029.20" y="837.32" width="3.20" height="167.68" fill="#5858b8" /><rect x="1064.40" y="869.04" width="3.20" height="135.96" fill="#5858b8" /><rect x="1085.10" y="838.45" width="3.20" height="166.55" fill="#5858b8" /><rect x="1092.30" y="849.78" width="3.20" height="155.22" fill="#5858b8" /><rect x="1106.30" y="844.11" width="3.20" height="160.89" fill="#5858b8" /><rect x="1120.40" y="852.04" width="3.20" height="152.96" fill="#7a4a98" /><rect x="1148.40" y="853.74" width="3.20" height="151.26" fill="#5858b8" /><rect x="1155.40" y="837.32" width="3.20" height="167.68" fill="#5858b8" /><rect x="1176.60" y="863.38" width="3.20" height="141.62" fill="#5858b8" /><line x1="655" y1="823.5" x2="655" y2="1005.5" stroke="#222" stroke-width="1.3"/><line x1="654.5" y1="1005.2" x2="1184.5" y2="1005.2" stroke="#222" stroke-width="1.4"/><clipPath id="dlab"><rect x="620" y="1005" width="564" height="129"/></clipPath><g clip-path="url(#dlab)"><line x1="657.50" y1="1005" x2="657.50" y2="1008" stroke="#222" stroke-width="0.8"/><text x="0" y="0" font-size="7.2" fill="#333" stroke="#333" stroke-width="0.2" transform="translate(657.80,1010.50) rotate(60)">Roots Control 15min Rep1 GmaxCC001</text><line x1="664.45" y1="1005" x2="664.45" y2="1008" stroke="#222" stroke-width="0.8"/><text x="0" y="0" font-size="7.2" fill="#333" stroke="#333" stroke-width="0.2" transform="translate(664.75,1010.50) rotate(60)">Roots Control 15min Rep2 GmaxCC002</text><line x1="671.40" y1="1005" x2="671.40" y2="1008" stroke="#222" stroke-width="0.8"/><text x="0" y="0" font-size="7.2" fill="#333" stroke="#333" stroke-width="0.2" transform="translate(671.70,1010.50) rotate(60)">Roots Control 45min Rep1 GmaxCC003</text><line x1="678.35" y1="1005" x2="678.35" y2="1008" stroke="#222" stroke-width="0.8"/><text x="0" y="0" font-size="7.2" fill="#333" stroke="#333" stroke-width="0.2" transform="translate(678.65,1010.50) rotate(60)">Roots Control 45min Rep2 GmaxCC004</text><line x1="685.30" y1="1005" x2="685.30" y2="1008" stroke="#222" stroke-width="0.8"/><text x="0" y="0" font-size="7.2" fill="#333" stroke="#333" stroke-width="0.2" transform="translate(685.60,1010.50) rotate(60)">Roots Control 12hr Rep1 GmaxCC005</text><line x1="692.25" y1="1005" x2="692.25" y2="1008" stroke="#222" stroke-width="0.8"/><text x="0" y="0" font-size="7.2" fill="#333" stroke="#333" stroke-width="0.2" transform="translate(692.55,1010.50) rotate(60)">Roots Control 12hr Rep2 GmaxCC006</text><line x1="699.20" y1="1005" x2="699.20" y2="1008" stroke="#222" stroke-width="0.8"/><text x="0" y="0" font-size="7.2" fill="#333" stroke="#333" stroke-width="0.2" transform="translate(699.50,1010.50) rotate(60)">Roots Control 48hr Rep1 GmaxCC007</text><line x1="706.15" y1="1005" x2="706.15" y2="1008" stroke="#222" stroke-width="0.8"/><text x="0" y="0" font-size="7.2" fill="#333" stroke="#333" stroke-width="0.2" transform="translate(706.45,1010.50) rotate(60)">Roots Control 48hr Rep2 GmaxCC008</text><line x1="713.10" y1="1005" x2="713.10" y2="1008" stroke="#222" stroke-width="0.8"/><text x="0" y="0" font-size="7.2" fill="#333" stroke="#333" stroke-width="0.2" transform="translate(713.40,1010.50) rotate(60)">Roots Disease 15min Rep1 GmaxCC009</text><line x1="720.05" y1="1005" x2="720.05" y2="1008" stroke="#222" stroke-width="0.8"/><text x="0" y="0" font-size="7.2" fill="#333" stroke="#333" stroke-width="0.2" transform="translate(720.35,1010.50) rotate(60)">Roots Disease 15min Rep2 GmaxCC001</text><line x1="727.00" y1="1005" x2="727.00" y2="1008" stroke="#222" stroke-width="0.8"/><text x="0" y="0" font-size="7.2" fill="#333" stroke="#333" stroke-width="0.2" transform="translate(727.30,1010.50) rotate(60)">Roots Disease 45min Rep1 GmaxCC002</text><line x1="733.95" y1="1005" x2="733.95" y2="1008" stroke="#222" stroke-width="0.8"/><text x="0" y="0" font-size="7.2" fill="#333" stroke="#333" stroke-width="0.2" transform="translate(734.25,1010.50) rotate(60)">Roots Disease 45min Rep2 GmaxCC003</text><line x1="740.90" y1="1005" x2="740.90" y2="1008" stroke="#222" stroke-width="0.8"/><text x="0" y="0" font-size="7.2" fill="#333" stroke="#333" stroke-width="0.2" transform="translate(741.20,1010.50) rotate(60)">Roots Disease 12hr Rep1 GmaxCC004</text><line x1="747.85" y1="1005" x2="747.85" y2="1008" stroke="#222" stroke-width="0.8"/><text x="0" y="0" font-size="7.2" fill="#333" stroke="#333" stroke-width="0.2" transform="translate(748.15,1010.50) rotate(60)">Roots Disease 12hr Rep2 GmaxCC005</text><line x1="754.80" y1="1005" x2="754.80" y2="1008" stroke="#222" stroke-width="0.8"/><text x="0" y="0" font-size="7.2" fill="#333" stroke="#333" stroke-width="0.2" transform="translate(755.10,1010.50) rotate(60)">Roots Disease 48hr Rep1 GmaxCC006</text><line x1="761.75" y1="1005" x2="761.75" y2="1008" stroke="#222" stroke-width="0.8"/><text x="0" y="0" font-size="7.2" fill="#333" stroke="#333" stroke-width="0.2" transform="translate(762.05,1010.50) rotate(60)">Roots Disease 48hr Rep2 GmaxCC007</text><line x1="768.70" y1="1005" x2="768.70" y2="1008" stroke="#222" stroke-width="0.8"/><text x="0" y="0" font-size="7.2" fill="#333" stroke="#333" stroke-width="0.2" transform="translate(769.00,1010.50) rotate(60)">Hair Control 0min Rep1 GmaxCC008</text><line x1="775.65" y1="1005" x2="775.65" y2="1008" stroke="#222" stroke-width="0.8"/><text x="0" y="0" font-size="7.2" fill="#333" stroke="#333" stroke-width="0.2" transform="translate(775.95,1010.50) rotate(60)">Hair Control 0min Rep2 GmaxCC009</text><line x1="782.60" y1="1005" x2="782.60" y2="1008" stroke="#222" stroke-width="0.8"/><text x="0" y="0" font-size="7.2" fill="#333" stroke="#333" stroke-width="0.2" transform="translate(782.90,1010.50) rotate(60)">Hair Control 15min Rep1 GmaxCC001</text><line x1="789.55" y1="1005" x2="789.55" y2="1008" stroke="#222" stroke-width="0.8"/><text x="0" y="0" font-size="7.2" fill="#333" stroke="#333" stroke-width="0.2" transform="translate(789.85,1010.50) rotate(60)">Hair Control 15min Rep2 GmaxCC002</text><line x1="796.50" y1="1005" x2="796.50" y2="1008" stroke="#222" stroke-width="0.8"/><text x="0" y="0" font-size="7.2" fill="#333" stroke="#333" stroke-width="0.2" transform="translate(796.80,1010.50) rotate(60)">Hair Control 45min Rep1 GmaxCC003</text><line x1="803.45" y1="1005" x2="803.45" y2="1008" stroke="#222" stroke-width="0.8"/><text x="0" y="0" font-size="7.2" fill="#333" stroke="#333" stroke-width="0.2" transform="translate(803.75,1010.50) rotate(60)">Hair Control 45min Rep2 GmaxCC004</text><line x1="810.40" y1="1005" x2="810.40" y2="1008" stroke="#222" stroke-width="0.8"/><text x="0" y="0" font-size="7.2" fill="#333" stroke="#333" stroke-width="0.2" transform="translate(810.70,1010.50) rotate(60)">Hair Control 3hr Rep1 GmaxCC005</text><line x1="817.35" y1="1005" x2="817.35" y2="1008" stroke="#222" stroke-width="0.8"/><text x="0" y="0" font-size="7.2" fill="#333" stroke="#333" stroke-width="0.2" transform="translate(817.65,1010.50) rotate(60)">Hair Control 3hr Rep2 GmaxCC006</text><line x1="824.30" y1="1005" x2="824.30" y2="1008" stroke="#222" stroke-width="0.8"/><text x="0" y="0" font-size="7.2" fill="#333" stroke="#333" stroke-width="0.2" transform="translate(824.60,1010.50) rotate(60)">Hair Control 12hr Rep1 GmaxCC007</text><line x1="831.25" y1="1005" x2="831.25" y2="1008" stroke="#222" stroke-width="0.8"/><text x="0" y="0" font-size="7.2" fill="#333" stroke="#333" stroke-width="0.2" transform="translate(831.55,1010.50) rotate(60)">Hair Control 12hr Rep2 GmaxCC008</text><line x1="838.20" y1="1005" x2="838.20" y2="1008" stroke="#222" stroke-width="0.8"/><text x="0" y="0" font-size="7.2" fill="#333" stroke="#333" stroke-width="0.2" transform="translate(838.50,1010.50) rotate(60)">Hair Control 24hr Rep1 GmaxCC009</text><line x1="845.15" y1="1005" x2="845.15" y2="1008" stroke="#222" stroke-width="0.8"/><text x="0" y="0" font-size="7.2" fill="#333" stroke="#333" stroke-width="0.2" transform="translate(845.45,1010.50) rotate(60)">Hair Control 24hr Rep2 GmaxCC001</text><line x1="852.10" y1="1005" x2="852.10" y2="1008" stroke="#222" stroke-width="0.8"/><text x="0" y="0" font-size="7.2" fill="#333" stroke="#333" stroke-width="0.2" transform="translate(852.40,1010.50) rotate(60)">Hair Control 36hr Rep1 GmaxCC002</text><line x1="859.05" y1="1005" x2="859.05" y2="1008" stroke="#222" stroke-width="0.8"/><text x="0" y="0" font-size="7.2" fill="#333" stroke="#333" stroke-width="0.2" transform="translate(859.35,1010.50) rotate(60)">Hair Control 36hr Rep2 GmaxCC003</text><line x1="866.00" y1="1005" x2="866.00" y2="1008" stroke="#222" stroke-width="0.8"/><text x="0" y="0" font-size="7.2" fill="#333" stroke="#333" stroke-width="0.2" transform="translate(866.30,1010.50) rotate(60)">Hair Control 48hr Rep1 GmaxCC004</text><line x1="872.95" y1="1005" x2="872.95" y2="1008" stroke="#222" stroke-width="0.8"/><text x="0" y="0" font-size="7.2" fill="#333" stroke="#333" stroke-width="0.2" transform="translate(873.25,1010.50) rotate(60)">Hair Control 48hr Rep2 GmaxCC005</text><line x1="879.90" y1="1005" x2="879.90" y2="1008" stroke="#222" stroke-width="0.8"/><text x="0" y="0" font-size="7.2" fill="#333" stroke="#333" stroke-width="0.2" transform="translate(880.20,1010.50) rotate(60)">Hair Control 72hr Rep1 GmaxCC006</text><line x1="886.85" y1="1005" x2="886.85" y2="1008" stroke="#222" stroke-width="0.8"/><text x="0" y="0" font-size="7.2" fill="#333" stroke="#333" stroke-width="0.2" transform="translate(887.15,1010.50) rotate(60)">Hair Control 72hr Rep2 GmaxCC007</text><line x1="893.80" y1="1005" x2="893.80" y2="1008" stroke="#222" stroke-width="0.8"/><text x="0" y="0" font-size="7.2" fill="#333" stroke="#333" stroke-width="0.2" transform="translate(894.10,1010.50) rotate(60)">Hair Disease 0min Rep1 GmaxCC008</text><line x1="900.75" y1="1005" x2="900.75" y2="1008" stroke="#222" stroke-width="0.8"/><text x="0" y="0" font-size="7.2" fill="#333" stroke="#333" stroke-width="0.2" transform="translate(901.05,1010.50) rotate(60)">Hair Disease 0min Rep2 GmaxCC009</text><line x1="907.70" y1="1005" x2="907.70" y2="1008" stroke="#222" stroke-width="0.8"/><text x="0" y="0" font-size="7.2" fill="#333" stroke="#333" stroke-width="0.2" transform="translate(908.00,1010.50) rotate(60)">Hair Disease 15min Rep1 GmaxCC001</text><line x1="914.65" y1="1005" x2="914.65" y2="1008" stroke="#222" stroke-width="0.8"/><text x="0" y="0" font-size="7.2" fill="#333" stroke="#333" stroke-width="0.2" transform="translate(914.95,1010.50) rotate(60)">Hair Disease 15min Rep2 GmaxCC002</text><line x1="921.60" y1="1005" x2="921.60" y2="1008" stroke="#222" stroke-width="0.8"/><text x="0" y="0" font-size="7.2" fill="#333" stroke="#333" stroke-width="0.2" transform="translate(921.90,1010.50) rotate(60)">Hair Disease 45min Rep1 GmaxCC003</text><line x1="928.55" y1="1005" x2="928.55" y2="1008" stroke="#222" stroke-width="0.8"/><text x="0" y="0" font-size="7.2" fill="#333" stroke="#333" stroke-width="0.2" transform="translate(928.85,1010.50) rotate(60)">Hair Disease 45min Rep2 GmaxCC004</text><line x1="935.50" y1="1005" x2="935.50" y2="1008" stroke="#222" stroke-width="0.8"/><text x="0" y="0" font-size="7.2" fill="#333" stroke="#333" stroke-width="0.2" transform="translate(935.80,1010.50) rotate(60)">Hair Disease 3hr Rep1 GmaxCC005</text><line x1="942.45" y1="1005" x2="942.45" y2="1008" stroke="#222" stroke-width="0.8"/><text x="0" y="0" font-size="7.2" fill="#333" stroke="#333" stroke-width="0.2" transform="translate(942.75,1010.50) rotate(60)">Hair Disease 3hr Rep2 GmaxCC006</text><line x1="949.40" y1="1005" x2="949.40" y2="1008" stroke="#222" stroke-width="0.8"/><text x="0" y="0" font-size="7.2" fill="#333" stroke="#333" stroke-width="0.2" transform="translate(949.70,1010.50) rotate(60)">Hair Disease 12hr Rep1 GmaxCC007</text><line x1="956.35" y1="1005" x2="956.35" y2="1008" stroke="#222" stroke-width="0.8"/><text x="0" y="0" font-size="7.2" fill="#333" stroke="#333" stroke-width="0.2" transform="translate(956.65,1010.50) rotate(60)">Hair Disease 12hr Rep2 GmaxCC008</text><line x1="963.30" y1="1005" x2="963.30" y2="1008" stroke="#222" stroke-width="0.8"/><text x="0" y="0" font-size="7.2" fill="#333" stroke="#333" stroke-width="0.2" transform="translate(963.60,1010.50) rotate(60)">Hair Disease 24hr Rep1 GmaxCC009</text><line x1="970.25" y1="1005" x2="970.25" y2="1008" stroke="#222" stroke-width="0.8"/><text x="0" y="0" font-size="7.2" fill="#333" stroke="#333" stroke-width="0.2" transform="translate(970.55,1010.50) rotate(60)">Hair Disease 24hr Rep2 GmaxCC001</text><line x1="977.20" y1="1005" x2="977.20" y2="1008" stroke="#222" stroke-width="0.8"/><text x="0" y="0" font-size="7.2" fill="#333" stroke="#333" stroke-width="0.2" transform="translate(977.50,1010.50) rotate(60)">Hair Disease 36hr Rep1 GmaxCC002</text><line x1="984.15" y1="1005" x2="984.15" y2="1008" stroke="#222" stroke-width="0.8"/><text x="0" y="0" font-size="7.2" fill="#333" stroke="#333" stroke-width="0.2" transform="translate(984.45,1010.50) rotate(60)">Hair Disease 36hr Rep2 GmaxCC003</text><line x1="991.10" y1="1005" x2="991.10" y2="1008" stroke="#222" stroke-width="0.8"/><text x="0" y="0" font-size="7.2" fill="#333" stroke="#333" stroke-width="0.2" transform="translate(991.40,1010.50) rotate(60)">Hair Disease 48hr Rep1 GmaxCC004</text><line x1="998.05" y1="1005" x2="998.05" y2="1008" stroke="#222" stroke-width="0.8"/><text x="0" y="0" font-size="7.2" fill="#333" stroke="#333" stroke-width="0.2" transform="translate(998.35,1010.50) rotate(60)">Hair Disease 48hr Rep2 GmaxCC005</text><line x1="1005.00" y1="1005" x2="1005.00" y2="1008" stroke="#222" stroke-width="0.8"/><text x="0" y="0" font-size="7.2" fill="#333" stroke="#333" stroke-width="0.2" transform="translate(1005.30,1010.50) rotate(60)">Hair Disease 72hr Rep1 GmaxCC006</text><line x1="1011.95" y1="1005" x2="1011.95" y2="1008" stroke="#222" stroke-width="0.8"/><text x="0" y="0" font-size="7.2" fill="#333" stroke="#333" stroke-width="0.2" transform="translate(1012.25,1010.50) rotate(60)">Hair Disease 72hr Rep2 GmaxCC007</text><line x1="1018.90" y1="1005" x2="1018.90" y2="1008" stroke="#222" stroke-width="0.8"/><text x="0" y="0" font-size="7.2" fill="#333" stroke="#333" stroke-width="0.2" transform="translate(1019.20,1010.50) rotate(60)">Roots Control 15min Rep1 GmaxCC001</text><line x1="1025.85" y1="1005" x2="1025.85" y2="1008" stroke="#222" stroke-width="0.8"/><text x="0" y="0" font-size="7.2" fill="#333" stroke="#333" stroke-width="0.2" transform="translate(1026.15,1010.50) rotate(60)">Roots Control 15min Rep2 GmaxCC002</text><line x1="1032.80" y1="1005" x2="1032.80" y2="1008" stroke="#222" stroke-width="0.8"/><text x="0" y="0" font-size="7.2" fill="#333" stroke="#333" stroke-width="0.2" transform="translate(1033.10,1010.50) rotate(60)">Roots Control 45min Rep1 GmaxCC003</text><line x1="1039.75" y1="1005" x2="1039.75" y2="1008" stroke="#222" stroke-width="0.8"/><text x="0" y="0" font-size="7.2" fill="#333" stroke="#333" stroke-width="0.2" transform="translate(1040.05,1010.50) rotate(60)">Roots Control 45min Rep2 GmaxCC004</text><line x1="1046.70" y1="1005" x2="1046.70" y2="1008" stroke="#222" stroke-width="0.8"/><text x="0" y="0" font-size="7.2" fill="#333" stroke="#333" stroke-width="0.2" transform="translate(1047.00,1010.50) rotate(60)">Roots Control 12hr Rep1 GmaxCC005</text><line x1="1053.65" y1="1005" x2="1053.65" y2="1008" stroke="#222" stroke-width="0.8"/><text x="0" y="0" font-size="7.2" fill="#333" stroke="#333" stroke-width="0.2" transform="translate(1053.95,1010.50) rotate(60)">Roots Control 12hr Rep2 GmaxCC006</text><line x1="1060.60" y1="1005" x2="1060.60" y2="1008" stroke="#222" stroke-width="0.8"/><text x="0" y="0" font-size="7.2" fill="#333" stroke="#333" stroke-width="0.2" transform="translate(1060.90,1010.50) rotate(60)">Roots Control 48hr Rep1 GmaxCC007</text><line x1="1067.55" y1="1005" x2="1067.55" y2="1008" stroke="#222" stroke-width="0.8"/><text x="0" y="0" font-size="7.2" fill="#333" stroke="#333" stroke-width="0.2" transform="translate(1067.85,1010.50) rotate(60)">Roots Control 48hr Rep2 GmaxCC008</text><line x1="1074.50" y1="1005" x2="1074.50" y2="1008" stroke="#222" stroke-width="0.8"/><text x="0" y="0" font-size="7.2" fill="#333" stroke="#333" stroke-width="0.2" transform="translate(1074.80,1010.50) rotate(60)">Roots Disease 15min Rep1 GmaxCC009</text><line x1="1081.45" y1="1005" x2="1081.45" y2="1008" stroke="#222" stroke-width="0.8"/><text x="0" y="0" font-size="7.2" fill="#333" stroke="#333" stroke-width="0.2" transform="translate(1081.75,1010.50) rotate(60)">Roots Disease 15min Rep2 GmaxCC001</text><line x1="1088.40" y1="1005" x2="1088.40" y2="1008" stroke="#222" stroke-width="0.8"/><text x="0" y="0" font-size="7.2" fill="#333" stroke="#333" stroke-width="0.2" transform="translate(1088.70,1010.50) rotate(60)">Roots Disease 45min Rep1 GmaxCC002</text><line x1="1095.35" y1="1005" x2="1095.35" y2="1008" stroke="#222" stroke-width="0.8"/><text x="0" y="0" font-size="7.2" fill="#333" stroke="#333" stroke-width="0.2" transform="translate(1095.65,1010.50) rotate(60)">Roots Disease 45min Rep2 GmaxCC003</text><line x1="1102.30" y1="1005" x2="1102.30" y2="1008" stroke="#222" stroke-width="0.8"/><text x="0" y="0" font-size="7.2" fill="#333" stroke="#333" stroke-width="0.2" transform="translate(1102.60,1010.50) rotate(60)">Roots Disease 12hr Rep1 GmaxCC004</text><line x1="1109.25" y1="1005" x2="1109.25" y2="1008" stroke="#222" stroke-width="0.8"/><text x="0" y="0" font-size="7.2" fill="#333" stroke="#333" stroke-width="0.2" transform="translate(1109.55,1010.50) rotate(60)">Roots Disease 12hr Rep2 GmaxCC005</text><line x1="1116.20" y1="1005" x2="1116.20" y2="1008" stroke="#222" stroke-width="0.8"/><text x="0" y="0" font-size="7.2" fill="#333" stroke="#333" stroke-width="0.2" transform="translate(1116.50,1010.50) rotate(60)">Roots Disease 48hr Rep1 GmaxCC006</text><line x1="1123.15" y1="1005" x2="1123.15" y2="1008" stroke="#222" stroke-width="0.8"/><text x="0" y="0" font-size="7.2" fill="#333" stroke="#333" stroke-width="0.2" transform="translate(1123.45,1010.50) rotate(60)">Roots Disease 48hr Rep2 GmaxCC007</text><line x1="1130.10" y1="1005" x2="1130.10" y2="1008" stroke="#222" stroke-width="0.8"/><text x="0" y="0" font-size="7.2" fill="#333" stroke="#333" stroke-width="0.2" transform="translate(1130.40,1010.50) rotate(60)">Hair Control 0min Rep1 GmaxCC008</text><line x1="1137.05" y1="1005" x2="1137.05" y2="1008" stroke="#222" stroke-width="0.8"/><text x="0" y="0" font-size="7.2" fill="#333" stroke="#333" stroke-width="0.2" transform="translate(1137.35,1010.50) rotate(60)">Hair Control 0min Rep2 GmaxCC009</text><line x1="1144.00" y1="1005" x2="1144.00" y2="1008" stroke="#222" stroke-width="0.8"/><text x="0" y="0" font-size="7.2" fill="#333" stroke="#333" stroke-width="0.2" transform="translate(1144.30,1010.50) rotate(60)">Hair Control 15min Rep1 GmaxCC001</text><line x1="1150.95" y1="1005" x2="1150.95" y2="1008" stroke="#222" stroke-width="0.8"/><text x="0" y="0" font-size="7.2" fill="#333" stroke="#333" stroke-width="0.2" transform="translate(1151.25,1010.50) rotate(60)">Hair Control 15min Rep2 GmaxCC002</text><line x1="1157.90" y1="1005" x2="1157.90" y2="1008" stroke="#222" stroke-width="0.8"/><text x="0" y="0" font-size="7.2" fill="#333" stroke="#333" stroke-width="0.2" transform="translate(1158.20,1010.50) rotate(60)">Hair Control 45min Rep1 GmaxCC003</text><line x1="1164.85" y1="1005" x2="1164.85" y2="1008" stroke="#222" stroke-width="0.8"/><text x="0" y="0" font-size="7.2" fill="#333" stroke="#333" stroke-width="0.2" transform="translate(1165.15,1010.50) rotate(60)">Hair Control 45min Rep2 GmaxCC004</text><line x1="1171.80" y1="1005" x2="1171.80" y2="1008" stroke="#222" stroke-width="0.8"/><text x="0" y="0" font-size="7.2" fill="#333" stroke="#333" stroke-width="0.2" transform="translate(1172.10,1010.50) rotate(60)">Hair Control 3hr Rep1 GmaxCC005</text><line x1="1178.75" y1="1005" x2="1178.75" y2="1008" stroke="#222" stroke-width="0.8"/><text x="0" y="0" font-size="7.2" fill="#333" stroke="#333" stroke-width="0.2" transform="translate(1179.05,1010.50) rotate(60)">Hair Control 3hr Rep2 GmaxCC006</text><line x1="1185.70" y1="1005" x2="1185.70" y2="1008" stroke="#222" stroke-width="0.8"/><text x="0" y="0" font-size="7.2" fill="#333" stroke="#333" stroke-width="0.2" transform="translate(1186.00,1010.50) rotate(60)">Hair Control 12hr Rep1 GmaxCC007</text><text x="1173.5" y="1137" font-size="13.5" fill="#5a8a2a" textLength="62" lengthAdjust="spacingAndGlyphs">Conditions</text></g><rect x="656.00" y="816.30" width="4.50" height="1.70" fill="#3a3ab0" /><text x="662.00" y="820.30" font-size="8.8" font-weight="normal" fill="#3a3ab0" textLength="15.50" lengthAdjust="spacingAndGlyphs" >KIT</text><text x="767.50" y="820.30" font-size="8.8" font-weight="normal" fill="#6a9a50" textLength="13.50" lengthAdjust="spacingAndGlyphs" >KFK</text><rect x="678.00" y="798.75" width="89.50" height="11.25" fill="#ffffff" stroke="#c8b48a" stroke-width="0.8"/><text x="681.00" y="807.60" font-size="8.4" font-weight="normal" fill="#333" textLength="74.00" lengthAdjust="spacingAndGlyphs" >Roots Disease 45min</text><rect x="758.00" y="799.50" width="9.00" height="9.80" fill="#e8e8e8" stroke="#999" stroke-width="0.5"/><path d="M760.5,803.3 L764.5,803.3 L762.5,805.8 Z" fill="#111"/><rect x="770.75" y="798.75" width="57.25" height="11.25" rx="1.5" fill="#ececec" stroke="#999" stroke-width="0.6"/><text x="771.50" y="807.60" font-size="8.4" font-weight="normal" fill="#333" textLength="55.50" lengthAdjust="spacingAndGlyphs" >View Sub-Graph</text><rect x="678.00" y="810.00" width="90.50" height="192.50" fill="#ffffff" stroke="#8aa0b8" stroke-width="0.8"/><text x="681.00" y="818.75" font-size="8.4" font-weight="normal" fill="#333" textLength="70.37" lengthAdjust="spacingAndGlyphs" >Roots Control 15min</text><text x="681.00" y="828.32" font-size="8.4" font-weight="normal" fill="#333" textLength="70.37" lengthAdjust="spacingAndGlyphs" >Roots Control 45min</text><text x="681.00" y="837.89" font-size="8.4" font-weight="normal" fill="#333" textLength="64.79" lengthAdjust="spacingAndGlyphs" >Roots Control 12hr</text><text x="681.00" y="847.46" font-size="8.4" font-weight="normal" fill="#333" textLength="64.79" lengthAdjust="spacingAndGlyphs" >Roots Control 48hr</text><text x="681.00" y="857.03" font-size="8.4" font-weight="normal" fill="#333" textLength="73.37" lengthAdjust="spacingAndGlyphs" >Roots Disease 15min</text><rect x="679.00" y="858.80" width="78.50" height="9.10" fill="#3399ff" /><text x="681.00" y="866.60" font-size="8.4" font-weight="normal" fill="#ffffff" textLength="73.37" lengthAdjust="spacingAndGlyphs" >Roots Disease 45min</text><text x="681.00" y="876.17" font-size="8.4" font-weight="normal" fill="#333" textLength="67.79" lengthAdjust="spacingAndGlyphs" >Roots Disease 12hr</text><text x="681.00" y="885.74" font-size="8.4" font-weight="normal" fill="#333" textLength="67.79" lengthAdjust="spacingAndGlyphs" >Roots Disease 48hr</text><text x="681.00" y="895.31" font-size="8.4" font-weight="normal" fill="#333" textLength="60.06" lengthAdjust="spacingAndGlyphs" >Hair Control 0min</text><text x="681.00" y="904.88" font-size="8.4" font-weight="normal" fill="#333" textLength="64.35" lengthAdjust="spacingAndGlyphs" >Hair Control 15min</text><text x="681.00" y="914.45" font-size="8.4" font-weight="normal" fill="#333" textLength="64.35" lengthAdjust="spacingAndGlyphs" >Hair Control 45min</text><text x="681.00" y="924.02" font-size="8.4" font-weight="normal" fill="#333" textLength="54.49" lengthAdjust="spacingAndGlyphs" >Hair Control 3hr</text><text x="681.00" y="933.59" font-size="8.4" font-weight="normal" fill="#333" textLength="58.78" lengthAdjust="spacingAndGlyphs" >Hair Control 12hr</text><text x="681.00" y="943.16" font-size="8.4" font-weight="normal" fill="#333" textLength="58.78" lengthAdjust="spacingAndGlyphs" >Hair Control 24hr</text><text x="681.00" y="952.73" font-size="8.4" font-weight="normal" fill="#333" textLength="58.78" lengthAdjust="spacingAndGlyphs" >Hair Control 36hr</text><text x="681.00" y="962.30" font-size="8.4" font-weight="normal" fill="#333" textLength="58.78" lengthAdjust="spacingAndGlyphs" >Hair Control 48hr</text><text x="681.00" y="971.87" font-size="8.4" font-weight="normal" fill="#333" textLength="58.78" lengthAdjust="spacingAndGlyphs" >Hair Control 72hr</text><text x="681.00" y="981.44" font-size="8.4" font-weight="normal" fill="#333" textLength="63.07" lengthAdjust="spacingAndGlyphs" >Hair Disease 0min</text><text x="681.00" y="991.01" font-size="8.4" font-weight="normal" fill="#333" textLength="67.36" lengthAdjust="spacingAndGlyphs" >Hair Disease 15min</text><text x="681.00" y="1000.58" font-size="8.4" font-weight="normal" fill="#333" textLength="67.36" lengthAdjust="spacingAndGlyphs" >Hair Disease 45min</text><rect x="758.75" y="810.50" width="9.25" height="191.50" fill="#f0f0f0" /><rect x="759.3" y="820" width="8.2" height="132.5" rx="1.5" fill="#d8d8dc" stroke="#b8b8c0" stroke-width="0.5"/><path d="M761.5,817.5 L765.5,817.5 L763.5,815 Z" fill="#333"/><path d="M761.5,996 L765.5,996 L763.5,998.5 Z" fill="#333"/><rect x="884.5" y="812.5" width="59.5" height="27.399999999999977" rx="3" fill="#000" opacity="0.25" filter="url(#b1)"/><rect x="883" y="811" width="59.5" height="27.399999999999977" rx="3" fill="#f0f0f0" stroke="#8a8a8a" stroke-width="1"/><text x="887.50" y="822.20" font-size="8.2" font-weight="bold" fill="#1c1cc8" textLength="50.50" lengthAdjust="spacingAndGlyphs" >KITDLGFKFK</text><text x="887.50" y="832.60" font-size="8.2" font-weight="normal" fill="#333" textLength="23.50" lengthAdjust="spacingAndGlyphs" >14.088</text><text x="0" y="0" font-size="12.5" fill="#5a9a30" transform="translate(633,1003.75) rotate(-90)" textLength="58.75" lengthAdjust="spacingAndGlyphs">Expression</text><text x="633.75" y="1087.50" font-size="42" font-weight="normal" fill="#000" textLength="31.25" lengthAdjust="spacingAndGlyphs" >d.</text></g></svg></body></html>
